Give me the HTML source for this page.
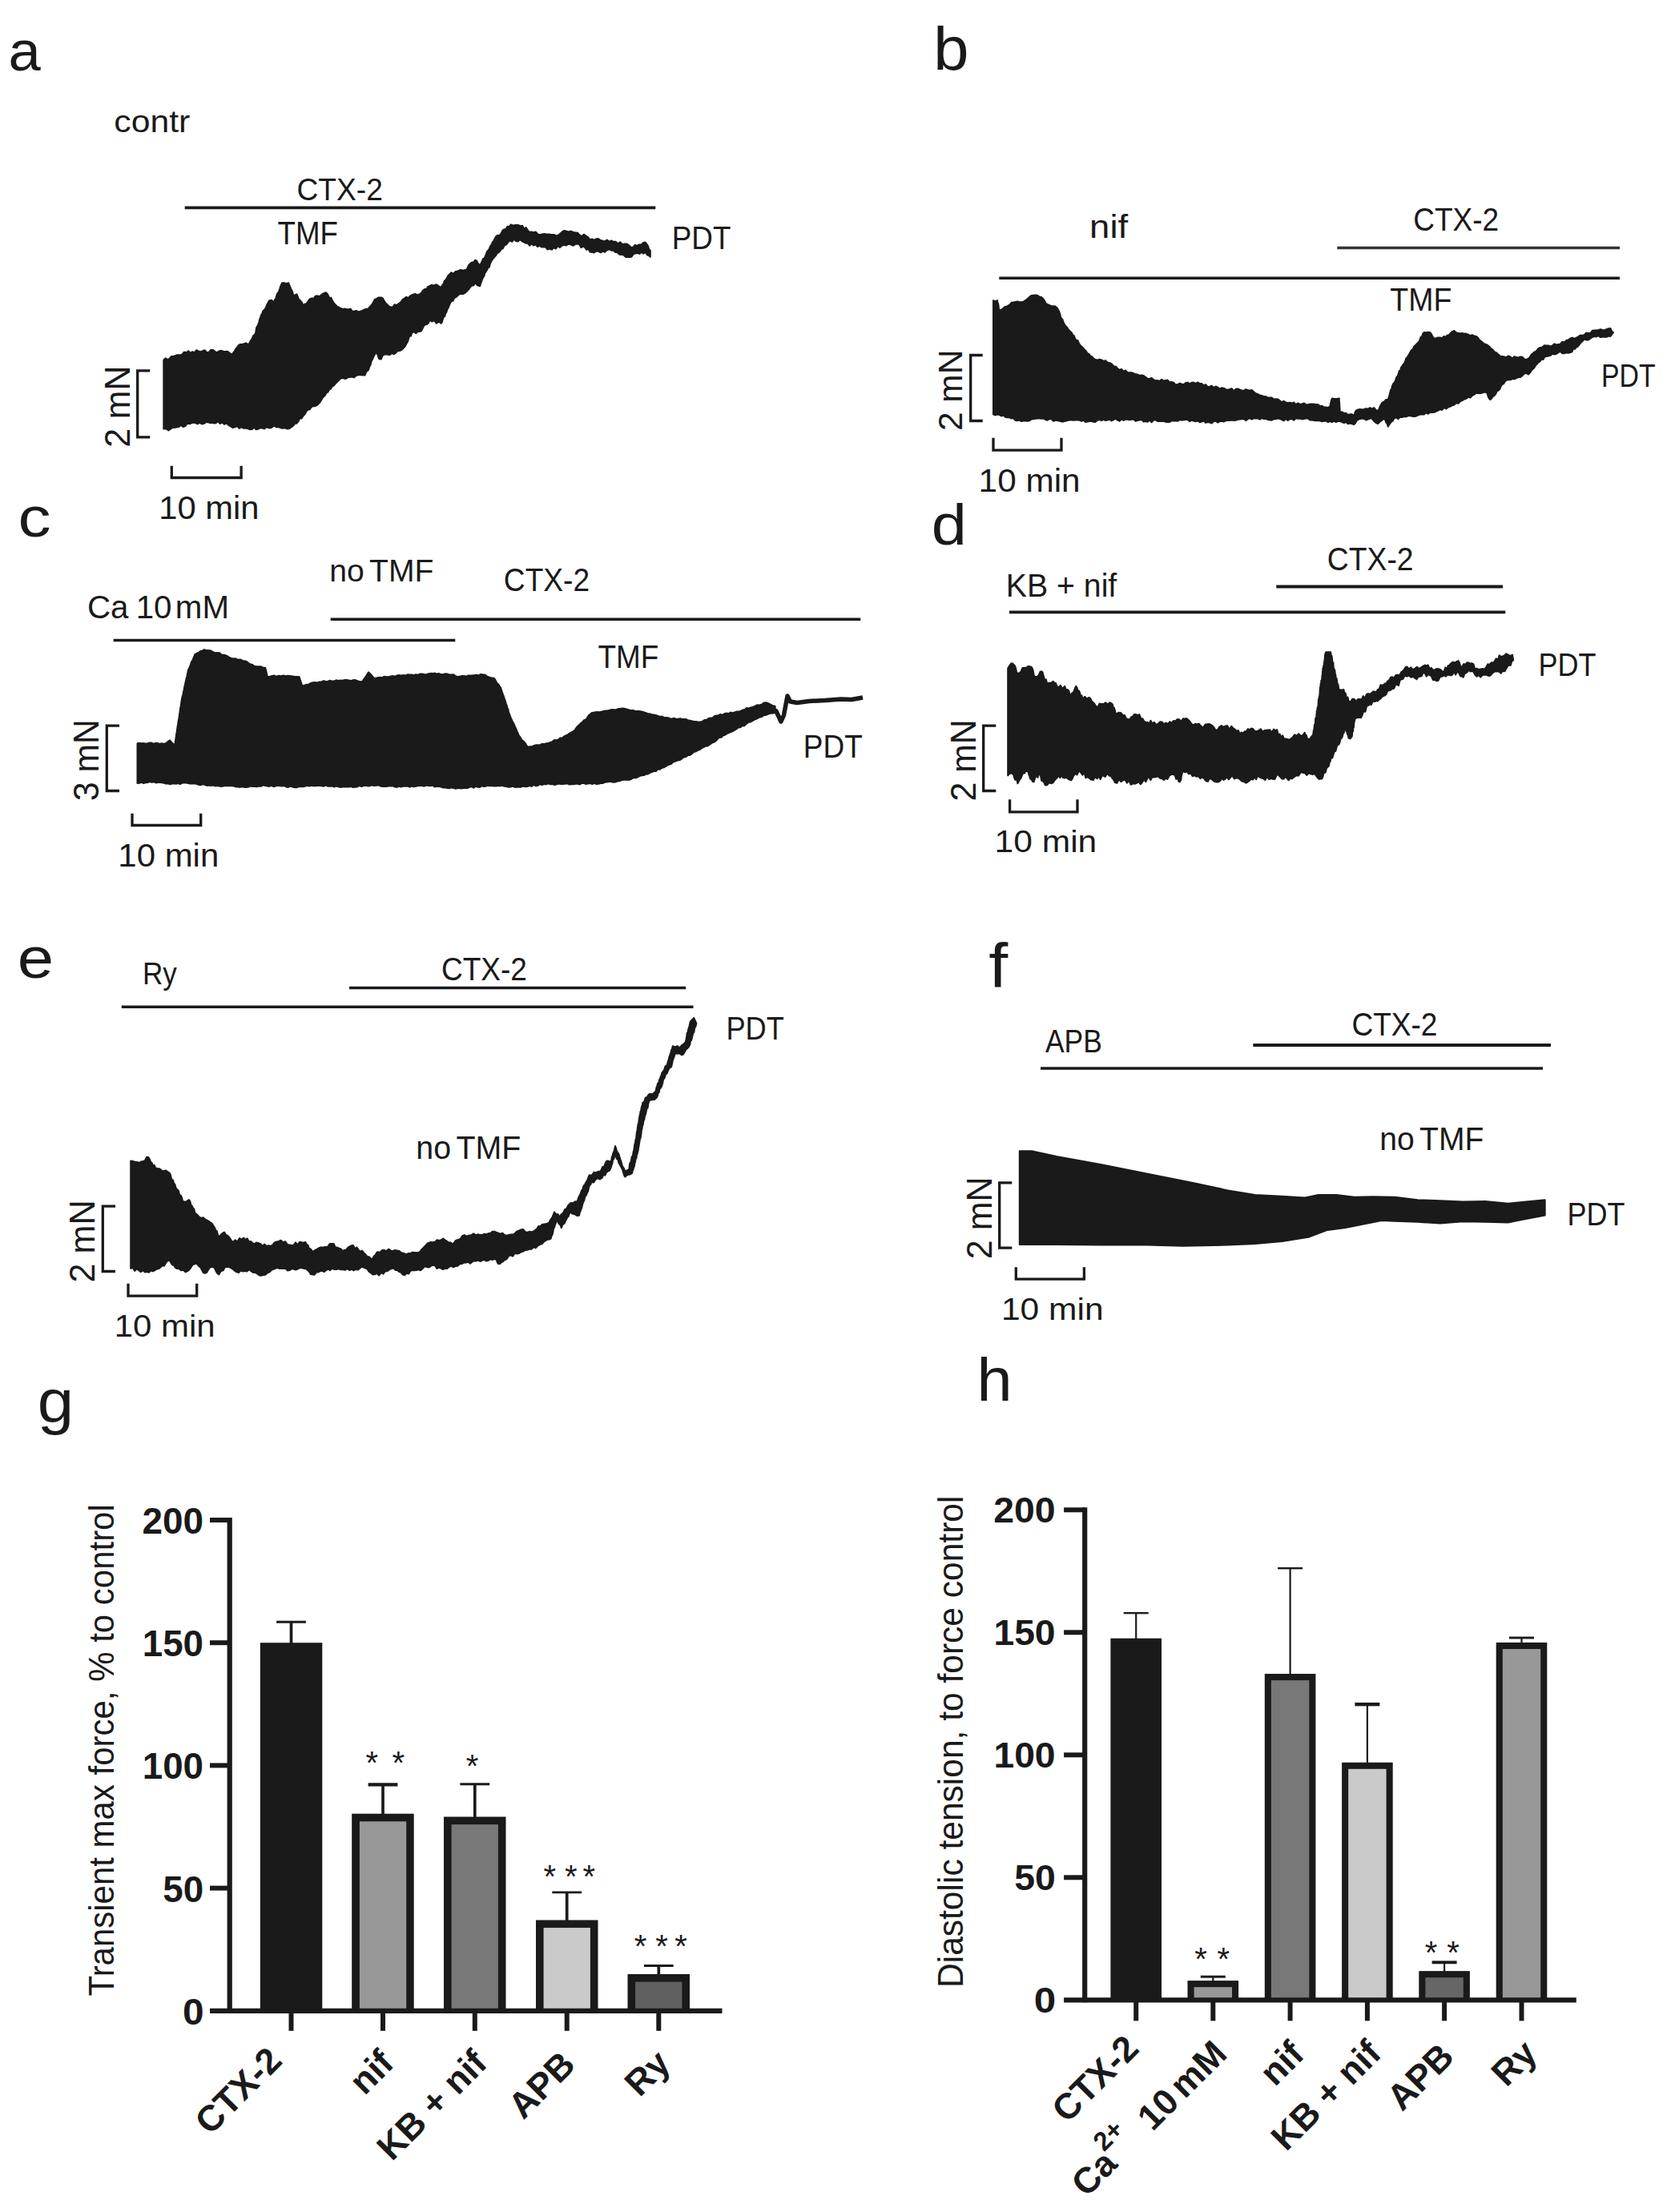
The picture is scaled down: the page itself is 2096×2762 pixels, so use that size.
<!DOCTYPE html>
<html><head><meta charset="utf-8"><title>Figure</title>
<style>
html,body{margin:0;padding:0;background:#fff;}
svg{display:block;}
text{font-family:'Liberation Sans', sans-serif;}
</style></head>
<body>
<svg width="2096" height="2762" viewBox="0 0 2096 2762">
<rect width="2096" height="2762" fill="#ffffff"/>
<g fill="#1a1a1a" stroke="#1a1a1a" stroke-width="2" stroke-linejoin="round">
<polygon points="204.3,449.5 206.7,447.3 209.0,449.0 211.4,447.9 213.8,445.1 216.1,445.1 218.5,444.3 221.3,443.3 224.1,443.2 227.0,442.9 229.8,439.6 232.7,440.2 235.2,438.3 237.7,440.9 240.2,439.2 242.8,440.2 245.3,437.2 247.8,438.5 250.4,439.3 252.9,438.2 255.5,437.3 258.1,440.0 260.6,439.9 263.2,436.8 265.8,436.9 268.4,438.8 270.9,440.3 273.5,438.4 276.1,437.8 278.7,438.7 281.3,439.0 284.0,438.7 286.7,440.7 289.4,443.1 291.0,440.7 292.7,438.7 294.4,435.6 296.1,433.5 297.8,431.2 299.5,430.1 302.0,430.0 304.5,429.3 307.1,428.4 309.6,430.1 311.2,428.9 312.8,425.4 314.5,423.3 316.1,419.3 317.7,418.0 318.5,417.3 319.3,414.4 320.1,409.3 320.9,407.6 321.8,406.6 322.6,404.1 323.4,402.5 324.2,398.2 325.0,397.3 325.8,393.7 327.1,392.0 328.3,388.4 329.6,387.1 330.9,385.9 332.1,383.5 333.4,380.0 334.7,378.0 335.9,375.4 339.0,374.8 342.0,377.5 343.0,374.1 344.0,373.7 345.0,369.9 346.1,366.6 347.1,365.5 348.1,363.6 349.1,361.1 350.1,357.6 351.1,355.4 352.1,353.2 354.8,353.2 357.5,354.2 360.2,353.2 361.2,355.9 362.3,358.2 363.3,361.2 364.3,362.3 365.3,365.0 366.3,369.4 370.4,367.3 371.7,370.4 373.1,373.8 374.4,374.7 375.8,376.4 377.1,378.0 378.5,381.5 380.5,379.5 382.5,379.2 384.5,376.4 386.6,373.4 389.1,372.5 391.6,372.7 394.1,369.4 396.7,369.4 399.2,370.0 401.7,367.6 404.3,366.2 406.8,365.3 408.4,366.5 410.0,369.5 411.7,373.0 413.3,371.6 414.9,375.4 416.9,378.5 419.0,380.6 421.0,382.9 423.0,383.5 425.4,385.0 427.9,385.9 430.3,385.4 432.7,386.2 435.2,386.3 437.6,385.6 440.0,389.1 442.4,388.6 444.9,387.9 447.3,389.6 449.7,388.8 452.2,387.9 454.6,386.7 457.0,385.8 459.5,385.6 461.1,383.7 462.8,381.9 464.5,379.9 466.2,377.3 467.9,373.7 469.6,373.4 472.6,371.4 475.7,371.4 477.7,372.2 479.7,375.7 481.7,378.8 483.8,380.6 485.8,382.6 487.8,383.5 490.2,383.5 492.7,380.2 495.1,381.1 497.5,379.3 500.0,377.5 502.4,374.3 504.8,372.5 507.2,370.8 509.7,371.9 512.1,369.4 515.1,367.9 518.2,366.9 521.2,368.3 524.3,367.3 526.3,365.1 528.3,362.4 530.3,361.0 532.4,360.7 534.4,357.7 536.4,357.2 539.1,355.7 541.8,356.6 544.5,355.2 547.5,357.0 550.6,359.2 552.0,356.3 553.5,354.5 554.9,350.6 556.4,349.6 557.8,347.4 559.3,344.2 560.7,343.0 563.4,340.3 566.1,341.8 568.8,339.0 571.8,338.5 574.9,336.9 577.9,337.8 581.0,337.0 583.0,336.1 585.0,331.2 587.0,329.1 589.1,327.6 591.1,327.6 593.1,324.8 595.1,325.6 597.2,329.6 599.2,330.9 600.4,329.2 601.7,326.5 603.0,323.0 604.2,323.5 605.5,320.6 606.8,317.3 608.0,313.9 609.3,312.7 610.7,310.8 612.0,307.5 613.4,305.8 614.7,302.6 616.1,301.3 617.4,298.5 619.4,294.9 621.5,293.7 623.5,294.1 625.5,291.7 627.5,287.7 629.6,286.3 631.6,286.1 633.6,282.6 635.6,283.4 637.7,280.3 640.7,281.6 643.7,281.0 646.8,280.9 649.8,282.3 652.1,281.7 654.4,286.0 656.7,284.1 659.1,288.1 661.4,289.7 663.7,289.5 666.0,290.4 668.7,289.5 671.4,292.4 674.1,293.1 676.8,292.5 679.5,292.1 682.2,292.4 685.2,292.5 688.3,292.9 691.3,292.9 694.4,294.4 696.8,293.8 699.2,291.8 701.6,289.7 704.1,288.1 706.5,288.4 709.5,289.5 712.6,288.6 715.6,289.9 718.7,290.4 721.2,290.8 723.7,293.7 726.2,294.9 728.8,292.7 731.3,294.4 733.8,295.8 736.4,299.2 738.9,298.5 741.6,299.7 744.3,298.3 747.0,298.1 749.7,300.0 752.4,300.8 755.1,301.4 757.8,299.5 760.5,301.7 763.2,300.5 765.9,301.8 768.6,301.8 771.3,304.3 774.0,302.2 776.7,304.7 779.4,304.6 782.1,304.4 784.8,306.1 787.5,308.6 790.1,309.2 792.7,305.8 795.3,306.9 797.9,305.5 800.5,305.5 803.1,302.9 805.7,302.5 807.2,304.5 808.8,306.8 810.3,311.4 811.8,312.7 811.8,320.8 809.8,319.1 807.8,318.3 805.7,314.7 803.3,316.7 800.8,314.7 798.3,316.9 795.8,316.0 793.4,316.4 790.9,317.2 788.4,320.7 785.9,321.1 783.5,320.8 780.9,320.9 778.4,318.2 775.9,318.1 773.3,317.7 770.8,315.2 768.3,314.9 765.7,312.7 763.2,312.7 760.5,311.4 757.8,312.3 755.1,314.7 752.4,313.8 749.7,315.3 747.0,313.8 744.3,313.4 741.6,315.5 738.9,314.7 736.7,314.7 734.4,310.7 732.2,311.9 729.9,308.7 727.7,307.7 725.4,309.3 723.2,305.1 720.9,304.7 718.7,304.6 715.6,306.8 712.6,305.3 709.5,304.7 706.5,306.6 704.0,305.9 701.4,306.7 698.9,309.0 696.4,307.2 693.8,310.6 691.3,309.2 688.8,311.8 686.3,310.6 683.7,311.6 681.2,308.9 678.7,308.2 676.1,308.5 673.6,306.7 671.1,308.1 668.5,305.4 666.0,306.6 663.6,304.0 661.1,306.7 658.7,303.4 656.3,303.7 653.9,302.3 651.4,301.0 649.0,299.3 646.6,301.6 644.1,301.0 641.7,298.5 639.3,301.8 636.8,300.3 634.4,302.3 632.0,305.4 629.6,306.6 627.8,310.3 626.1,310.8 624.3,313.3 622.6,315.3 620.9,315.8 619.1,318.9 617.4,320.8 616.1,322.3 614.7,324.3 613.4,326.0 612.0,329.0 610.7,333.7 609.3,334.1 608.0,337.0 606.6,339.3 605.3,341.0 604.2,345.3 603.2,346.0 602.2,348.4 601.2,351.2 600.2,353.8 599.2,357.2 596.1,356.4 593.1,353.2 591.1,356.6 589.1,356.5 587.0,358.6 585.0,361.4 583.0,363.6 581.0,365.3 578.5,366.9 576.1,366.8 573.7,367.2 571.2,369.2 568.8,371.4 567.2,371.9 565.6,375.6 563.9,375.9 562.3,377.9 560.7,381.5 559.6,384.5 558.5,385.7 557.3,390.0 556.2,391.4 555.1,395.2 554.0,395.1 552.8,398.8 551.7,402.4 550.6,403.8 547.7,401.4 544.9,403.8 542.1,400.2 539.2,401.5 536.4,399.7 534.7,403.5 532.9,404.9 531.2,405.2 529.5,406.4 527.7,409.9 526.0,413.4 524.3,413.9 521.7,413.7 519.2,416.3 516.7,414.1 514.1,415.9 512.9,419.7 511.6,418.8 510.3,422.1 509.1,426.5 507.8,428.4 506.5,431.1 505.3,433.1 504.0,434.2 501.6,436.7 499.1,438.1 496.7,437.9 494.3,440.4 491.9,442.3 489.3,441.0 486.8,443.0 484.3,442.9 481.7,442.3 479.7,442.9 477.7,443.7 475.7,448.5 473.6,448.3 472.6,446.9 471.6,443.4 470.6,440.9 469.6,438.2 468.6,441.9 467.6,442.9 466.5,445.1 465.5,447.3 464.5,449.5 463.5,451.1 462.5,455.7 461.5,457.3 460.5,460.3 459.5,462.5 457.4,464.0 455.4,468.6 452.7,468.4 450.0,467.9 447.3,468.2 444.6,469.1 441.9,471.4 439.2,470.6 436.5,470.9 433.8,471.6 431.1,473.0 428.4,472.3 425.7,472.2 423.0,474.7 421.0,476.8 419.0,478.7 416.9,481.3 414.9,482.5 412.9,485.4 410.9,486.8 409.3,489.7 407.8,489.9 406.3,492.9 404.8,494.8 403.3,495.9 401.7,498.6 400.2,501.2 398.7,503.0 396.0,505.8 393.3,507.2 390.6,507.1 388.6,508.3 386.6,511.6 384.5,511.5 382.5,513.6 380.5,517.2 378.5,519.2 376.4,522.6 374.4,522.0 372.4,526.2 370.4,528.7 368.3,528.6 366.3,531.4 363.6,533.4 360.9,535.3 358.2,535.4 355.5,534.3 352.8,534.8 350.1,534.2 347.4,533.0 344.7,533.3 342.0,531.4 339.6,533.6 337.1,534.6 334.7,534.0 332.3,533.4 329.9,535.4 327.3,534.5 324.8,534.4 322.3,535.7 319.7,536.3 317.2,533.8 314.7,536.1 312.1,536.2 309.6,535.4 306.9,534.5 304.2,534.8 301.5,533.2 298.8,534.9 296.1,532.1 293.4,533.4 290.7,534.1 288.0,532.5 285.3,530.8 282.6,528.5 279.9,529.8 277.2,527.3 274.7,529.0 272.1,526.0 269.6,528.3 267.1,528.5 264.5,527.9 262.0,528.0 259.5,527.1 257.0,527.3 254.4,529.1 251.9,529.5 249.4,527.6 246.8,529.4 244.3,528.3 241.8,527.6 239.2,528.4 236.7,529.3 234.0,528.7 231.3,532.1 228.6,533.0 225.9,530.7 223.2,533.1 220.5,533.4 218.0,534.1 215.4,534.0 212.9,535.7 210.4,537.4 207.3,535.5 204.3,535.4"/>
<polygon points="1240.0,375.0 1242.5,376.4 1245.0,375.0 1245.5,378.9 1246.0,378.7 1246.5,381.3 1247.0,386.0 1247.5,387.5 1249.7,387.0 1251.9,385.5 1254.1,383.2 1256.3,382.8 1258.5,381.6 1260.6,380.3 1262.8,377.7 1265.0,377.5 1267.5,376.9 1270.0,376.4 1272.5,376.9 1275.0,377.3 1277.5,376.8 1280.0,375.0 1282.5,373.2 1285.0,370.9 1287.5,369.0 1290.0,368.7 1292.5,368.4 1295.0,368.8 1297.5,370.5 1300.0,371.0 1301.9,372.7 1303.8,375.2 1305.7,378.9 1307.6,380.0 1310.1,381.1 1312.6,382.2 1315.1,382.2 1317.6,382.6 1320.1,385.0 1321.1,387.0 1322.2,388.9 1323.3,392.6 1324.3,396.5 1325.4,398.1 1326.5,399.1 1327.6,402.5 1329.2,405.8 1330.9,407.6 1332.6,409.5 1334.2,412.1 1335.9,413.7 1337.6,415.0 1339.1,418.1 1340.7,419.0 1342.3,423.1 1343.8,425.2 1345.4,425.0 1347.0,428.9 1348.5,431.0 1350.1,432.6 1352.0,434.3 1353.8,436.4 1355.7,438.2 1357.6,441.3 1359.5,441.9 1361.3,444.8 1363.2,445.2 1365.1,447.6 1367.6,449.1 1370.1,449.6 1372.6,448.7 1375.1,449.4 1377.6,450.9 1380.1,450.1 1382.2,452.2 1384.4,452.9 1386.5,453.5 1388.7,455.3 1390.8,457.8 1393.0,457.6 1395.1,460.1 1397.6,462.0 1400.1,460.9 1402.6,463.6 1405.1,462.5 1407.6,465.2 1410.1,465.2 1412.6,465.3 1415.1,466.1 1417.6,467.3 1420.1,467.6 1422.6,468.7 1425.1,468.6 1427.6,469.1 1430.1,470.9 1432.6,472.9 1435.1,472.8 1437.6,472.0 1440.1,474.1 1442.6,475.2 1445.1,475.1 1447.6,475.8 1450.1,473.8 1452.6,475.6 1455.1,475.1 1457.6,474.6 1460.1,477.2 1462.6,476.9 1465.1,477.6 1467.6,480.4 1470.1,480.1 1472.7,478.6 1475.2,479.5 1477.7,480.2 1480.2,478.1 1482.7,477.7 1485.2,479.3 1487.7,477.7 1490.2,477.6 1492.7,478.9 1495.2,477.4 1497.7,479.0 1500.2,479.1 1502.7,481.2 1505.2,480.1 1507.7,483.3 1510.2,482.6 1512.7,481.6 1515.2,484.1 1517.7,482.5 1520.2,483.6 1522.7,485.7 1525.2,484.2 1527.7,484.7 1530.2,486.1 1532.7,486.8 1535.2,486.0 1537.7,485.1 1540.2,488.1 1542.7,485.7 1545.2,485.4 1547.7,486.5 1550.2,487.4 1552.7,487.9 1555.2,486.2 1557.7,487.0 1560.2,487.6 1562.7,487.1 1565.2,489.3 1567.7,491.2 1570.2,492.1 1572.7,493.5 1575.2,494.0 1577.7,495.2 1580.2,495.1 1582.7,496.5 1585.2,496.5 1587.7,496.5 1590.2,498.6 1592.7,498.3 1595.2,498.4 1597.7,500.2 1600.2,502.2 1602.7,500.7 1605.2,502.6 1607.7,503.1 1610.2,502.8 1612.7,503.4 1615.2,502.5 1617.7,505.2 1620.2,503.4 1622.7,504.7 1625.2,504.4 1627.7,503.4 1630.2,505.1 1632.7,505.5 1635.2,504.4 1637.7,504.4 1640.3,504.5 1642.8,505.1 1645.3,505.1 1647.8,507.0 1650.3,506.8 1652.8,508.4 1655.3,508.5 1657.8,508.9 1660.3,507.6 1660.9,504.3 1661.5,502.4 1662.1,499.3 1662.8,497.6 1665.8,497.9 1668.8,498.0 1671.8,497.6 1671.9,501.0 1672.1,503.2 1672.2,504.4 1672.3,507.4 1672.5,510.2 1672.6,511.1 1672.8,515.1 1675.3,514.3 1677.8,516.0 1680.3,515.7 1682.8,518.1 1685.3,517.2 1687.8,517.3 1690.3,519.1 1691.5,514.9 1692.8,512.6 1695.3,511.4 1697.8,511.0 1700.3,511.5 1702.8,510.9 1705.3,510.1 1707.8,510.7 1710.3,509.0 1712.8,510.7 1715.3,509.1 1717.8,512.2 1720.3,512.6 1721.5,510.8 1722.8,507.4 1724.1,505.1 1725.3,502.6 1727.8,501.7 1730.3,498.9 1732.8,499.1 1733.6,496.1 1734.5,493.7 1735.3,489.9 1736.1,486.9 1737.0,486.2 1737.8,482.6 1738.9,479.9 1740.1,478.1 1741.2,477.0 1742.4,473.8 1743.5,470.6 1744.6,470.4 1745.8,466.3 1746.9,462.9 1748.0,462.7 1749.2,458.6 1750.3,457.6 1751.6,454.8 1752.8,454.2 1754.1,451.5 1755.3,447.4 1756.6,446.5 1757.8,444.2 1759.1,442.2 1760.3,440.1 1762.0,437.1 1763.7,436.2 1765.3,432.5 1767.0,431.1 1768.7,429.3 1770.3,427.6 1771.8,426.4 1773.3,421.3 1774.8,420.8 1776.3,416.6 1777.8,415.0 1780.3,415.3 1782.8,414.7 1785.3,415.0 1787.0,417.4 1788.7,420.8 1790.3,422.5 1792.8,422.2 1795.3,421.4 1797.8,421.4 1800.3,422.5 1802.4,419.9 1804.5,420.8 1806.6,418.7 1808.7,418.3 1810.8,416.0 1812.9,414.0 1815.4,413.0 1817.9,415.3 1820.4,416.1 1822.9,416.3 1825.4,416.0 1827.9,416.6 1830.4,416.8 1832.9,417.6 1835.4,419.2 1837.9,418.2 1840.4,419.6 1842.9,420.0 1845.0,421.6 1847.0,424.7 1849.1,426.0 1851.2,428.0 1853.3,429.4 1855.4,430.1 1857.4,431.2 1859.4,432.9 1861.4,435.4 1863.4,436.5 1865.4,439.1 1867.9,440.3 1870.4,442.6 1872.9,444.8 1875.4,445.1 1877.9,445.5 1880.4,446.4 1882.9,444.4 1885.4,445.4 1887.9,447.5 1890.4,445.1 1892.9,446.1 1895.4,446.6 1897.9,445.5 1900.4,445.7 1902.9,448.4 1905.4,448.8 1907.9,447.6 1909.7,446.2 1911.5,442.9 1913.3,441.6 1915.1,439.6 1916.8,439.1 1918.6,437.4 1920.4,435.1 1922.9,434.0 1925.4,433.4 1927.9,431.3 1930.4,431.6 1932.9,431.4 1935.4,432.4 1937.9,431.6 1940.4,429.3 1942.9,430.4 1945.4,430.1 1947.9,429.4 1950.4,426.8 1952.9,427.5 1955.4,424.9 1957.9,424.4 1960.4,422.5 1962.9,421.7 1965.4,422.9 1967.9,421.6 1970.4,420.4 1972.9,418.6 1975.4,419.0 1978.0,417.8 1980.5,415.5 1983.0,416.1 1985.5,415.9 1988.0,412.7 1990.5,412.5 1993.0,412.3 1995.5,411.9 1998.0,411.3 2000.5,411.9 2003.0,412.3 2005.5,411.3 2008.0,410.3 2010.5,410.0 2012.2,413.9 2014.0,415.0 2010.5,420.0 2008.0,419.5 2005.5,420.8 2003.0,420.5 2000.5,420.8 1998.0,421.1 1995.5,419.2 1993.0,420.4 1990.5,420.0 1988.0,420.8 1985.5,422.5 1983.0,424.5 1980.5,424.5 1978.0,423.6 1975.4,426.1 1973.6,427.7 1971.7,430.2 1969.8,432.5 1967.9,433.5 1966.1,435.8 1964.2,435.1 1962.3,439.6 1960.4,440.1 1957.9,440.7 1955.4,440.4 1952.9,441.3 1950.4,441.2 1947.9,438.9 1945.4,440.1 1942.9,441.8 1940.4,442.5 1937.9,441.7 1935.4,444.1 1932.9,444.5 1930.4,445.1 1928.4,445.6 1926.4,449.0 1924.4,448.5 1922.4,451.4 1920.4,452.6 1918.7,454.5 1917.1,456.0 1915.4,459.0 1913.7,460.8 1912.1,462.1 1910.4,465.1 1907.9,467.5 1905.4,465.8 1902.9,466.6 1900.4,469.0 1897.9,471.1 1895.4,471.1 1892.9,472.2 1890.4,473.2 1887.9,473.0 1885.4,474.3 1882.9,473.9 1880.4,475.1 1878.7,476.5 1877.1,479.3 1875.4,479.9 1873.7,482.2 1872.1,486.3 1870.4,487.6 1868.7,488.5 1867.1,492.2 1865.4,494.2 1863.7,495.0 1862.0,497.7 1860.4,499.1 1859.1,497.7 1857.9,495.7 1856.6,491.2 1855.4,490.1 1852.9,489.5 1850.4,490.6 1847.9,491.2 1845.4,491.1 1842.9,490.7 1840.4,492.6 1837.9,494.0 1835.4,496.5 1832.9,495.9 1830.4,497.7 1827.9,498.5 1825.4,500.1 1822.9,501.2 1820.4,503.7 1817.9,503.3 1815.4,505.5 1812.9,506.3 1810.4,507.6 1807.8,508.5 1805.3,510.5 1802.8,508.8 1800.3,511.9 1797.8,511.2 1795.3,512.6 1792.8,513.7 1790.3,514.7 1787.8,514.9 1785.3,514.8 1782.8,516.8 1780.3,515.1 1777.8,517.4 1775.3,517.6 1772.8,517.6 1770.3,518.4 1767.8,519.7 1765.3,519.9 1762.8,519.7 1760.3,519.1 1757.8,519.3 1755.3,520.3 1752.8,520.0 1750.3,521.1 1747.8,520.8 1745.3,523.2 1742.8,521.1 1740.3,522.6 1738.8,525.6 1737.3,526.2 1735.8,528.2 1734.3,530.1 1732.8,532.6 1731.6,528.8 1730.3,527.5 1729.1,524.1 1727.8,522.6 1725.3,524.6 1722.8,526.3 1720.3,529.1 1717.8,528.1 1715.3,526.0 1712.8,522.6 1710.3,522.6 1707.8,523.5 1705.3,524.5 1702.8,522.9 1700.3,522.5 1697.8,523.1 1695.3,524.1 1693.6,525.2 1691.9,528.6 1690.3,530.1 1687.8,529.2 1685.3,528.5 1682.8,529.3 1680.3,527.0 1677.8,528.2 1675.3,527.1 1672.8,526.1 1670.3,525.8 1667.8,527.1 1665.3,525.6 1662.8,527.2 1660.3,526.1 1657.8,527.1 1655.3,525.5 1652.8,525.8 1650.3,526.3 1647.8,525.4 1645.3,525.1 1642.8,525.2 1640.3,525.1 1637.7,524.2 1635.2,524.6 1632.7,522.3 1630.2,522.6 1627.7,523.1 1625.2,523.4 1622.7,522.6 1620.2,522.8 1617.7,522.3 1615.2,524.7 1612.7,523.0 1610.2,523.5 1607.7,524.9 1605.2,522.9 1602.7,525.4 1600.2,524.1 1597.7,522.9 1595.2,522.4 1592.7,523.3 1590.2,523.2 1587.7,524.7 1585.2,524.5 1582.7,524.0 1580.2,522.9 1577.7,523.1 1575.2,522.1 1572.7,523.7 1570.2,522.6 1567.7,522.5 1565.2,522.4 1562.7,523.6 1560.2,522.4 1557.7,523.1 1555.2,525.1 1552.7,522.9 1550.2,523.2 1547.7,523.6 1545.2,523.9 1542.7,524.7 1540.2,525.1 1537.7,524.6 1535.2,525.1 1532.7,525.0 1530.2,525.2 1527.7,526.5 1525.2,525.9 1522.7,526.2 1520.2,527.6 1517.7,525.7 1515.2,526.1 1512.7,528.5 1510.2,527.6 1507.7,527.1 1505.2,527.9 1502.7,525.6 1500.2,526.5 1497.7,527.2 1495.2,525.4 1492.7,526.4 1490.2,525.6 1487.7,524.7 1485.2,526.2 1482.7,524.1 1480.2,524.1 1477.7,524.2 1475.2,524.8 1472.7,524.1 1470.1,525.8 1467.6,525.2 1465.1,525.4 1462.6,525.4 1460.1,526.9 1457.6,527.1 1455.1,526.8 1452.6,525.8 1450.1,526.1 1447.6,525.8 1445.1,526.0 1442.6,524.5 1440.1,524.6 1437.6,527.2 1435.1,524.5 1432.6,526.8 1430.1,526.0 1427.6,526.6 1425.1,524.0 1422.6,524.6 1420.1,525.1 1417.6,525.9 1415.1,523.5 1412.6,523.7 1410.1,524.3 1407.6,523.7 1405.1,523.6 1402.6,525.0 1400.1,523.2 1397.6,525.8 1395.1,524.7 1392.6,522.8 1390.1,524.1 1387.6,525.5 1385.1,523.7 1382.6,524.6 1380.1,525.0 1377.6,523.9 1375.1,525.1 1372.6,524.0 1370.1,524.5 1367.6,526.9 1365.1,526.7 1362.6,526.0 1360.1,526.1 1357.6,526.6 1355.1,527.1 1352.6,524.8 1350.1,525.8 1347.6,524.7 1345.1,524.6 1342.6,524.5 1340.1,524.7 1337.6,524.2 1335.1,524.6 1332.6,525.1 1330.1,525.7 1327.6,526.4 1325.1,526.4 1322.6,525.8 1320.1,525.1 1317.6,524.9 1315.1,525.9 1312.6,523.3 1310.1,522.9 1307.6,524.8 1305.1,524.0 1302.5,522.5 1300.0,522.7 1297.5,522.3 1295.0,522.6 1292.5,522.8 1290.0,523.3 1287.5,523.6 1285.0,525.3 1282.5,525.7 1280.0,525.4 1277.5,525.6 1275.0,526.1 1272.5,524.6 1270.0,525.2 1267.5,525.1 1265.0,522.0 1262.5,522.6 1260.0,521.1 1257.5,521.3 1255.0,520.7 1252.5,518.4 1250.0,519.5 1247.5,518.0 1245.0,517.6 1242.5,518.3 1240.0,517.6"/>
<polygon points="171.5,928.2 174.0,927.8 176.5,928.3 179.0,928.0 181.5,928.4 184.0,928.4 186.5,927.5 189.0,927.5 191.5,928.8 194.1,927.9 196.6,927.8 199.1,929.0 201.6,928.2 204.1,928.8 206.6,928.2 209.4,926.2 212.2,924.3 214.1,927.0 216.0,928.6 217.9,931.6 218.3,929.3 218.7,927.2 219.1,924.1 219.4,921.9 219.8,919.3 220.2,915.8 220.6,914.4 221.0,911.6 221.4,908.6 221.8,905.7 222.1,904.5 222.5,901.3 222.9,899.2 223.3,897.0 223.7,894.2 224.1,892.0 224.5,888.6 224.8,886.8 225.2,883.7 225.6,881.9 226.0,879.3 226.4,876.2 226.9,873.1 227.4,870.7 228.0,868.3 228.5,867.0 229.0,863.7 229.6,861.5 230.1,858.5 230.6,856.4 231.2,853.7 231.7,851.2 232.2,849.1 232.8,846.6 233.3,844.7 233.8,841.8 234.3,839.7 234.9,836.6 235.9,834.7 237.0,832.4 238.1,829.4 239.1,826.1 240.2,824.8 241.2,822.5 242.3,819.9 243.4,816.8 245.6,815.8 247.9,814.9 250.1,812.9 252.4,812.8 254.7,811.1 257.5,811.9 260.3,812.1 263.2,812.4 266.0,814.3 268.8,815.2 271.6,815.1 274.1,815.3 276.6,817.4 279.1,817.7 281.6,818.2 284.0,819.3 286.5,821.0 289.0,822.1 291.5,822.4 294.3,822.3 297.1,823.8 299.9,823.4 302.8,825.0 305.6,825.3 308.0,826.1 310.3,828.1 312.7,829.4 315.0,829.8 317.4,831.7 319.7,832.1 322.6,832.2 325.4,832.2 328.2,833.5 331.1,833.8 331.8,835.8 332.5,838.9 333.2,842.1 333.9,845.1 336.7,845.0 339.5,844.0 342.4,843.6 345.2,844.7 348.0,843.6 350.9,844.3 353.7,843.4 356.5,844.2 359.4,843.7 362.2,844.0 365.0,844.4 367.8,844.8 370.7,845.0 373.5,845.1 374.5,848.0 375.5,850.9 376.5,854.3 377.5,856.4 380.1,855.6 382.7,854.8 385.4,854.5 388.0,852.9 390.7,852.3 393.3,851.9 395.9,852.4 398.6,851.5 401.2,851.4 403.9,850.3 406.5,850.8 409.1,850.9 411.8,849.8 414.4,850.5 417.1,850.4 419.7,849.3 422.3,850.0 425.0,849.5 427.6,849.7 430.3,849.0 432.9,849.0 435.7,849.6 438.6,849.9 441.4,849.0 444.2,849.3 447.1,850.5 449.9,851.2 452.7,850.7 454.2,848.1 455.7,846.1 457.1,844.1 458.6,841.4 460.1,839.4 461.8,841.0 463.5,842.8 465.2,844.7 466.9,846.8 469.5,846.7 472.1,845.9 474.7,845.8 477.3,846.2 479.9,844.7 482.5,845.3 485.1,845.3 487.7,844.4 490.4,844.0 493.0,844.6 495.6,843.5 498.2,843.1 500.8,843.4 503.4,843.1 506.1,843.4 508.7,842.3 511.4,842.5 514.0,842.4 516.6,843.0 519.3,842.2 521.9,842.7 524.6,841.5 527.2,841.6 529.8,842.0 532.5,842.2 535.1,841.3 537.8,840.8 540.4,841.1 543.0,840.6 545.5,841.4 548.0,841.0 550.6,842.1 553.1,842.2 555.7,841.3 558.2,841.5 560.8,842.5 563.3,842.4 565.9,842.2 568.7,844.1 571.5,845.1 574.1,844.6 576.7,844.0 579.3,844.0 581.9,844.6 584.5,843.5 587.1,843.4 589.7,843.3 592.3,843.1 594.9,842.8 597.5,843.4 600.1,841.9 602.7,842.2 605.5,842.4 608.3,844.8 611.1,845.6 614.0,846.6 616.8,846.8 618.2,848.7 619.6,851.6 621.0,853.7 622.5,854.6 623.9,857.5 625.3,859.2 626.1,862.2 626.9,864.3 627.7,866.5 628.5,868.6 629.3,871.1 630.1,873.3 630.9,875.5 631.7,878.8 632.6,880.7 633.4,884.0 634.2,885.2 635.0,889.0 635.8,891.0 636.6,893.2 637.6,896.2 638.7,898.4 639.7,900.7 640.7,902.5 641.7,904.0 642.8,907.4 643.8,908.8 644.8,911.4 645.9,914.3 646.9,916.3 647.9,918.6 649.5,920.5 651.1,923.4 652.8,924.9 654.4,926.5 656.0,928.3 657.6,931.3 659.2,932.8 661.7,932.2 664.3,932.2 666.8,931.0 669.3,930.3 671.8,930.3 674.3,930.3 676.8,928.7 679.3,929.2 681.9,928.2 684.3,928.1 686.8,927.0 689.3,926.2 691.8,924.1 694.2,924.2 696.7,923.7 699.2,921.6 701.7,921.5 704.0,919.7 706.4,918.3 708.7,917.3 711.1,915.7 713.5,914.3 715.8,913.0 717.7,911.5 719.6,908.4 721.5,906.6 723.4,904.8 725.2,902.9 727.1,901.6 729.0,899.1 730.9,898.6 732.8,896.6 734.7,893.4 736.6,892.2 738.4,890.3 740.9,889.7 743.4,889.3 745.9,889.0 748.3,889.2 750.8,888.7 753.3,888.0 755.8,887.4 758.2,887.5 761.1,886.8 763.9,886.0 766.7,886.2 769.6,886.0 772.4,885.0 775.2,884.7 777.8,884.4 780.3,885.0 782.9,885.7 785.4,886.4 788.0,887.1 790.5,886.9 793.0,887.9 795.6,888.0 798.1,888.1 800.7,888.6 803.3,889.1 805.8,890.0 808.4,891.0 811.0,891.2 813.5,892.3 816.1,892.6 818.7,892.9 821.3,894.0 823.8,895.0 826.4,894.6 829.0,896.0 831.5,896.1 834.0,896.3 836.5,897.2 839.0,897.4 841.5,896.7 844.1,897.8 846.6,897.8 849.1,897.1 851.6,897.7 854.1,898.1 856.6,898.0 859.2,899.5 861.7,899.7 864.2,900.5 866.7,900.8 869.2,901.0 871.7,901.6 874.2,901.6 876.8,900.8 879.3,899.1 881.8,899.0 884.3,897.1 886.8,896.4 889.3,896.4 891.8,894.3 894.4,893.5 896.9,893.2 899.4,892.0 901.9,892.8 904.4,891.1 906.9,890.4 909.4,891.2 912.0,889.5 914.5,890.2 917.0,889.4 919.5,888.6 922.0,888.4 924.5,887.9 927.0,886.5 929.6,886.1 932.1,884.1 934.6,884.5 937.1,883.4 939.6,882.9 942.1,881.8 945.0,880.3 947.8,880.4 950.6,879.8 953.5,877.5 956.3,877.3 959.1,878.2 961.9,879.7 964.8,881.2 967.6,881.8 967.6,890.3 964.8,890.4 961.9,890.8 959.1,891.5 956.3,892.8 953.5,893.2 951.0,894.9 948.6,895.4 946.2,896.5 943.8,897.8 941.3,898.9 938.9,900.3 936.5,901.6 934.1,902.0 931.6,904.1 929.2,906.2 926.8,906.3 924.4,908.2 921.9,908.2 919.5,910.1 917.1,911.7 914.7,913.1 912.2,914.1 909.8,915.0 907.4,916.2 905.0,917.7 902.5,918.6 900.4,920.8 898.3,920.8 896.2,922.1 894.0,924.8 891.9,926.5 889.8,927.1 887.7,928.4 885.6,929.9 883.1,931.6 880.7,931.7 878.3,933.1 875.9,934.2 873.4,936.2 871.0,936.8 868.6,938.4 866.2,939.1 863.7,941.2 861.3,943.0 858.9,942.9 856.5,944.9 854.0,945.5 851.6,946.9 849.3,948.8 847.1,949.3 844.8,949.8 842.6,950.9 840.3,951.6 838.0,953.7 835.8,954.6 833.5,955.3 831.2,956.8 829.0,958.2 826.5,958.8 823.9,960.7 821.4,960.3 818.9,963.0 816.4,962.9 813.9,964.1 811.4,964.8 808.9,966.4 806.3,966.7 803.8,968.1 801.3,968.3 798.8,968.9 796.3,970.2 793.8,971.2 791.3,971.0 788.7,972.5 786.2,973.7 783.7,973.5 781.1,973.8 778.5,973.7 775.9,974.0 773.3,975.3 770.7,975.6 768.0,976.5 765.4,976.7 762.8,975.8 760.2,976.0 757.6,976.5 755.0,976.7 752.4,978.1 749.8,978.0 747.2,978.8 744.5,979.0 741.9,977.8 739.3,979.1 736.7,978.1 734.1,978.4 731.5,979.1 728.9,977.9 726.3,978.0 723.6,979.6 721.0,978.6 718.4,978.8 715.8,979.2 713.2,979.3 710.6,979.5 708.0,978.2 705.4,978.8 702.8,979.0 700.1,979.1 697.5,978.6 694.9,979.3 692.3,980.1 689.7,978.9 687.1,979.3 684.5,978.4 681.9,979.2 679.3,979.0 676.6,980.0 674.0,979.2 671.4,981.0 668.8,981.3 666.2,979.9 663.6,981.9 661.0,981.0 658.4,982.1 655.7,982.3 653.1,981.6 650.5,982.7 647.9,982.6 645.3,982.7 642.7,982.9 640.1,981.7 637.5,982.5 634.9,982.8 632.2,982.1 629.6,981.7 627.0,980.7 624.4,981.4 621.8,981.0 619.2,981.6 616.6,981.4 614.0,980.9 611.5,981.2 608.9,980.7 606.4,981.8 603.9,982.0 601.4,981.3 598.9,983.0 596.4,982.7 593.8,981.9 591.3,983.7 588.8,982.3 586.3,982.9 583.8,983.9 581.3,983.9 578.8,984.1 576.2,984.5 573.7,984.3 571.2,984.2 568.7,984.8 566.1,983.9 563.5,983.4 560.9,984.3 558.3,984.1 555.6,983.4 553.0,983.5 550.4,982.4 547.8,981.9 545.2,981.8 542.6,982.5 540.0,980.6 537.4,981.2 534.8,980.9 532.1,980.5 529.5,981.7 526.9,981.0 524.3,981.1 521.7,981.3 519.1,981.7 516.5,982.3 513.9,981.6 511.2,982.7 508.6,981.4 506.0,981.8 503.4,981.6 500.8,982.6 498.2,981.7 495.6,982.9 493.0,982.6 490.4,981.4 487.7,981.3 485.1,981.6 482.5,982.1 479.9,982.1 477.3,981.9 474.7,981.4 472.1,980.4 469.5,980.8 466.9,980.9 464.2,980.4 461.6,981.2 459.0,981.4 456.4,980.8 453.8,981.0 451.2,982.2 448.6,980.8 446.0,982.5 443.4,982.8 440.7,983.1 438.1,982.1 435.5,982.5 432.9,982.6 430.3,982.6 427.7,982.6 425.1,983.1 422.5,982.4 419.8,981.5 417.2,982.5 414.6,981.6 412.0,981.7 409.4,981.8 406.8,980.3 404.2,981.7 401.6,981.3 399.0,980.9 396.3,981.0 393.7,981.2 391.1,981.2 388.5,980.8 385.9,981.6 383.3,980.7 380.7,981.8 378.1,982.2 375.5,981.9 372.8,982.3 370.2,983.2 367.6,983.2 365.0,982.6 362.4,981.7 359.8,982.9 357.2,982.4 354.6,981.1 352.0,981.6 349.3,981.2 346.7,980.8 344.1,981.6 341.5,982.2 338.9,980.9 336.3,981.9 333.7,981.4 331.1,980.9 328.4,980.3 325.8,981.8 323.2,981.5 320.6,982.2 318.0,981.9 315.4,982.1 312.8,981.5 310.2,982.5 307.6,982.9 304.9,982.9 302.3,982.2 299.7,982.9 297.1,982.6 294.5,982.4 291.9,981.5 289.3,981.3 286.7,981.2 284.1,981.3 281.4,981.1 278.8,981.6 276.2,981.9 273.6,981.5 271.0,981.1 268.4,981.4 265.8,980.6 263.2,980.9 260.6,980.5 258.0,980.9 255.4,979.9 252.9,979.2 250.3,980.4 247.7,979.8 245.2,978.8 242.6,978.5 240.0,978.6 237.4,978.5 234.9,978.0 232.4,977.6 229.8,977.3 227.3,977.8 224.8,979.1 222.3,978.0 219.8,978.7 217.3,978.3 214.8,978.5 212.2,979.2 209.7,978.3 207.2,978.5 204.7,977.7 202.2,977.2 199.7,977.1 197.2,977.0 194.6,977.4 192.1,976.3 189.6,976.9 187.0,976.1 184.4,977.1 181.8,977.2 179.3,978.0 176.7,976.8 174.1,977.7 171.5,978.0"/>
<polygon points="1258.2,834.6 1260.3,831.0 1262.3,828.3 1264.3,828.5 1265.3,829.9 1266.3,830.6 1267.3,832.1 1268.4,836.0 1269.4,840.9 1270.4,840.6 1272.4,840.6 1274.4,838.7 1276.5,833.9 1278.5,833.7 1281.2,833.5 1283.9,831.7 1286.6,832.5 1287.6,832.7 1288.6,834.4 1289.6,837.0 1290.6,843.0 1291.6,844.5 1292.7,844.7 1294.7,844.9 1296.7,843.3 1298.7,838.4 1300.8,838.6 1301.6,839.6 1302.5,843.4 1303.4,846.0 1304.2,848.7 1305.1,850.9 1306.0,848.4 1306.8,852.8 1309.5,852.7 1312.2,852.4 1314.9,850.8 1316.4,852.8 1318.0,853.0 1319.5,856.7 1321.0,858.9 1323.7,855.9 1326.4,859.9 1329.1,856.8 1330.7,860.9 1332.3,861.1 1334.0,861.8 1335.6,867.2 1337.2,867.0 1338.4,865.3 1339.6,865.0 1340.8,862.8 1342.1,858.9 1343.3,856.8 1344.3,858.4 1345.3,861.4 1346.3,862.5 1347.3,863.0 1348.3,865.9 1349.4,870.7 1350.4,868.4 1351.4,873.0 1354.1,869.8 1356.8,872.4 1359.5,871.0 1361.1,871.8 1362.7,875.2 1364.3,876.9 1366.0,878.2 1367.6,881.1 1370.1,883.4 1372.6,878.4 1375.2,879.1 1377.7,879.1 1380.2,877.2 1382.8,879.4 1385.3,877.2 1387.8,878.3 1388.8,879.6 1389.9,884.0 1390.9,883.8 1391.9,887.3 1392.9,891.4 1393.9,891.3 1396.6,889.7 1399.3,890.1 1402.0,893.3 1404.0,893.1 1406.1,897.4 1408.1,897.9 1410.1,898.5 1412.1,895.5 1414.2,894.4 1416.2,891.9 1418.2,892.1 1420.2,893.1 1422.3,892.1 1424.3,897.1 1426.3,897.3 1428.3,900.6 1430.4,901.9 1432.4,901.7 1434.4,904.0 1436.4,899.7 1438.5,903.4 1440.9,901.8 1443.3,905.2 1445.7,903.7 1448.2,901.3 1450.6,901.4 1453.0,904.1 1455.5,902.5 1457.9,903.9 1460.3,901.2 1462.8,902.6 1465.1,900.0 1467.5,900.5 1469.8,897.9 1472.2,898.4 1474.6,900.8 1476.9,897.3 1479.0,897.6 1481.0,897.0 1483.0,898.4 1485.0,900.3 1487.1,903.4 1489.5,905.6 1491.9,903.9 1494.3,904.2 1496.8,903.7 1499.2,906.6 1501.9,908.5 1504.6,904.6 1507.3,904.2 1509.3,904.0 1511.4,904.7 1513.4,906.1 1515.4,908.2 1517.4,911.5 1519.9,911.5 1522.3,907.6 1524.7,906.0 1527.1,907.6 1529.6,906.6 1532.1,905.9 1534.6,910.8 1537.2,906.7 1539.7,909.5 1541.7,910.7 1543.8,913.0 1545.8,912.0 1547.8,916.3 1549.8,914.4 1551.9,915.6 1553.9,913.2 1555.9,913.2 1557.9,910.1 1560.0,911.3 1562.0,909.4 1564.0,909.9 1566.4,912.8 1568.9,913.2 1571.3,912.1 1573.7,910.2 1576.2,913.5 1578.5,912.0 1580.8,911.7 1583.1,911.4 1585.4,911.3 1587.7,914.7 1590.0,910.5 1592.4,912.3 1594.1,911.1 1595.9,917.3 1597.7,916.6 1599.4,920.3 1601.2,918.3 1603.0,922.5 1604.8,922.4 1606.5,922.8 1609.0,923.7 1611.4,922.6 1613.8,920.4 1616.2,917.3 1618.7,918.8 1621.2,916.2 1623.7,918.9 1626.3,918.0 1628.8,914.7 1629.8,919.1 1630.8,917.9 1631.8,921.7 1632.9,922.8 1634.9,922.8 1636.9,920.1 1638.9,917.6 1639.3,917.0 1639.7,913.1 1640.1,911.6 1640.5,909.4 1641.0,904.8 1641.4,906.2 1641.8,904.1 1642.2,896.8 1642.6,899.6 1643.0,897.2 1643.4,893.3 1643.8,887.5 1644.2,890.0 1644.6,883.4 1645.0,883.2 1645.3,883.5 1645.6,879.6 1645.9,874.0 1646.2,872.4 1646.5,872.8 1646.8,870.2 1647.1,868.9 1647.4,867.7 1647.7,861.5 1648.0,858.1 1648.3,861.0 1648.6,853.7 1649.0,856.3 1649.3,849.8 1649.6,851.5 1649.9,849.1 1650.2,847.4 1650.5,843.3 1650.8,842.9 1651.1,838.6 1651.4,834.7 1651.8,835.1 1652.2,831.0 1652.6,832.0 1652.9,829.1 1653.3,825.2 1653.7,823.3 1654.0,818.3 1654.4,816.1 1654.8,817.0 1655.1,814.3 1658.2,814.2 1661.2,814.3 1661.7,818.6 1662.1,819.4 1662.6,819.0 1663.0,822.5 1663.5,827.0 1663.9,827.9 1664.4,827.3 1664.8,834.2 1665.3,834.6 1665.8,838.6 1666.3,836.6 1666.8,841.4 1667.3,842.7 1667.8,847.1 1668.3,846.7 1668.8,848.4 1669.3,852.0 1669.8,856.9 1670.3,854.2 1670.8,856.5 1671.3,860.9 1674.4,861.6 1677.4,860.9 1678.3,865.1 1679.1,865.0 1680.0,866.6 1680.9,871.0 1681.7,872.5 1682.6,870.6 1683.5,875.1 1685.8,876.8 1688.2,872.7 1690.6,872.9 1692.9,875.6 1695.3,872.9 1697.7,873.0 1699.7,873.7 1701.7,869.1 1703.7,872.1 1705.8,867.2 1707.8,866.0 1709.8,867.0 1711.8,865.7 1713.9,863.6 1715.9,863.5 1717.9,864.4 1719.9,860.9 1721.7,860.6 1723.4,855.2 1725.1,855.5 1726.9,855.3 1728.6,853.6 1730.3,853.4 1732.1,850.8 1734.1,849.3 1736.1,845.7 1738.2,845.3 1740.2,847.3 1742.2,843.2 1744.2,842.7 1746.0,842.7 1747.7,842.5 1749.4,839.0 1751.2,837.9 1752.9,836.0 1754.6,832.9 1756.4,832.5 1758.9,835.3 1761.4,833.4 1764.0,836.3 1766.5,834.6 1768.9,832.7 1771.4,835.0 1773.8,833.7 1776.2,831.9 1778.7,830.5 1780.7,831.2 1782.7,830.5 1784.7,835.1 1786.8,833.8 1788.8,836.5 1790.8,836.6 1793.3,835.0 1795.9,835.3 1798.4,836.1 1800.9,838.6 1802.6,838.6 1804.3,833.4 1806.0,835.8 1807.7,831.1 1809.4,830.6 1811.1,828.5 1813.8,826.7 1816.5,827.3 1819.2,825.6 1820.7,825.1 1822.2,828.5 1823.7,833.2 1825.2,832.5 1827.3,829.0 1829.3,829.9 1831.3,827.3 1833.3,827.5 1835.4,828.6 1837.4,828.2 1839.4,829.4 1841.4,835.9 1843.5,834.6 1845.9,836.0 1848.3,835.4 1850.7,835.1 1853.2,835.5 1855.6,832.5 1857.3,829.2 1859.1,830.1 1860.8,828.2 1862.5,827.2 1864.3,827.7 1866.0,825.3 1867.8,822.4 1869.8,824.0 1871.8,818.2 1873.8,820.2 1875.9,819.3 1877.9,818.7 1879.9,816.3 1882.6,817.4 1885.3,819.0 1888.0,817.5 1889.2,824.4 1887.5,825.3 1885.7,830.9 1884.0,830.5 1882.3,831.7 1880.6,834.4 1878.9,837.8 1877.2,838.4 1875.5,837.9 1873.8,840.6 1871.1,838.4 1868.4,838.3 1865.7,838.6 1863.2,840.3 1860.7,843.4 1858.1,843.9 1855.6,842.7 1853.2,842.5 1850.7,842.9 1848.3,845.6 1845.9,843.1 1843.5,844.7 1841.4,842.6 1839.4,838.7 1837.4,838.0 1835.4,838.4 1833.3,836.6 1831.7,839.3 1830.1,840.5 1828.5,840.7 1826.8,845.6 1825.2,844.7 1823.2,844.2 1821.2,840.3 1819.2,838.6 1817.1,842.5 1815.1,838.6 1813.1,842.5 1811.1,843.4 1809.0,842.8 1807.0,842.4 1805.0,844.7 1802.6,843.1 1800.3,844.7 1797.9,845.1 1795.5,849.8 1793.2,850.2 1790.8,848.7 1788.8,848.9 1786.8,844.1 1784.7,843.2 1782.7,842.2 1780.7,844.5 1778.7,840.6 1776.6,839.8 1774.6,844.3 1772.6,844.7 1770.6,844.9 1768.5,848.3 1766.5,846.7 1764.0,844.9 1761.4,845.8 1758.9,843.3 1756.4,844.7 1754.6,843.9 1752.9,844.9 1751.2,848.0 1749.4,848.3 1747.7,849.5 1746.0,856.1 1744.2,854.8 1742.2,855.0 1740.2,859.7 1738.2,860.0 1736.1,861.5 1734.1,862.4 1732.1,862.9 1730.4,867.1 1728.7,868.4 1727.0,869.2 1725.3,870.0 1723.6,872.4 1722.0,873.0 1719.9,875.3 1717.9,875.3 1715.9,876.1 1713.9,875.1 1711.8,880.0 1709.8,879.1 1708.5,880.9 1707.1,880.5 1705.8,882.9 1704.4,888.8 1703.1,887.2 1701.7,889.8 1700.4,893.4 1699.0,896.2 1697.7,896.1 1694.6,895.8 1691.6,897.3 1691.2,898.9 1690.8,901.4 1690.4,901.4 1690.0,908.3 1689.6,905.8 1689.1,913.3 1688.7,911.0 1688.3,913.2 1687.9,919.3 1687.5,919.6 1685.5,922.4 1683.5,921.6 1682.8,917.8 1682.1,917.2 1681.5,914.4 1680.8,913.4 1680.1,908.0 1679.4,907.5 1678.6,911.6 1677.7,914.9 1676.8,915.5 1676.0,919.1 1675.1,921.5 1674.2,920.7 1673.4,923.7 1672.3,927.6 1671.3,929.6 1670.3,930.2 1669.3,929.6 1668.3,934.4 1667.3,938.1 1666.3,936.7 1665.3,939.9 1664.4,942.7 1663.5,946.1 1662.6,946.5 1661.7,945.4 1660.8,950.7 1659.9,950.6 1659.0,956.0 1658.1,957.0 1657.2,958.1 1656.0,959.0 1654.8,964.3 1653.7,964.9 1652.5,965.3 1651.4,970.1 1650.2,972.4 1649.1,972.3 1647.0,972.9 1645.0,971.4 1643.0,968.6 1641.0,966.2 1638.5,967.0 1636.1,966.3 1633.7,965.6 1631.2,967.9 1628.8,965.0 1626.3,964.9 1623.7,964.2 1621.2,968.6 1618.7,968.2 1616.7,969.4 1614.6,970.9 1612.6,972.4 1610.6,971.7 1608.6,974.3 1606.5,971.6 1604.5,969.9 1602.5,972.8 1600.5,972.5 1598.4,970.3 1596.4,968.2 1594.0,967.0 1591.5,972.8 1589.1,972.9 1586.7,972.1 1584.3,973.1 1581.8,969.7 1579.4,973.9 1577.0,972.1 1574.5,971.5 1572.1,970.2 1570.1,968.4 1568.1,973.3 1566.0,970.2 1564.0,973.6 1562.0,972.6 1560.0,974.6 1557.9,976.3 1555.4,977.7 1552.9,976.1 1550.3,975.6 1547.8,973.1 1545.5,971.5 1543.2,971.6 1540.9,972.4 1538.5,968.8 1536.2,970.5 1533.9,973.3 1531.6,970.2 1529.6,972.5 1527.6,974.0 1525.5,971.7 1523.5,974.8 1521.5,976.2 1519.5,976.6 1517.4,976.3 1515.1,975.3 1512.7,973.1 1510.3,971.6 1508.0,975.8 1505.6,975.3 1503.3,972.3 1500.8,970.2 1498.4,972.1 1496.0,969.3 1493.5,969.7 1491.1,968.2 1488.7,969.3 1486.4,965.6 1484.0,966.4 1481.7,963.6 1479.3,964.2 1476.9,963.3 1476.3,962.9 1475.6,966.3 1474.9,968.6 1474.2,974.3 1473.6,972.1 1472.9,976.3 1471.4,975.7 1469.8,969.9 1468.3,972.9 1466.8,968.2 1464.5,966.9 1462.2,967.1 1459.9,968.3 1457.5,972.9 1455.2,972.0 1452.9,973.9 1450.6,972.3 1448.2,971.8 1445.7,969.3 1443.3,970.1 1440.9,970.4 1438.5,970.2 1436.4,974.0 1434.4,970.4 1432.4,971.8 1430.4,976.2 1428.3,973.1 1426.3,976.3 1423.9,979.3 1421.4,976.0 1419.0,977.9 1416.6,978.8 1414.2,978.3 1411.7,979.8 1409.3,974.3 1406.9,977.8 1404.4,973.3 1402.0,974.3 1399.5,976.2 1396.9,973.0 1394.4,977.9 1391.9,977.1 1390.2,973.5 1388.5,971.8 1386.8,969.0 1385.1,968.8 1383.4,967.0 1381.8,966.2 1379.7,969.9 1377.7,968.8 1375.7,968.5 1373.7,973.0 1371.6,969.4 1369.6,972.3 1367.2,970.3 1364.7,974.0 1362.3,973.6 1359.9,971.7 1357.5,970.2 1355.4,971.3 1353.4,964.5 1351.4,967.6 1349.4,964.9 1347.3,962.1 1345.9,964.8 1344.4,967.5 1343.0,965.1 1341.5,967.4 1340.1,968.8 1338.6,972.4 1337.2,974.3 1335.2,973.5 1333.2,972.5 1331.1,970.5 1329.1,971.6 1327.1,971.1 1325.1,968.2 1323.4,971.1 1321.7,968.6 1320.0,970.7 1318.3,972.6 1316.6,974.2 1314.9,977.1 1312.4,978.3 1309.9,977.0 1307.3,980.2 1304.8,980.4 1303.6,977.5 1302.5,975.5 1301.3,975.4 1300.2,974.7 1299.0,968.5 1297.9,967.4 1296.7,966.2 1295.5,970.9 1294.3,968.6 1293.1,969.6 1291.8,972.5 1290.6,976.3 1289.2,976.1 1287.7,973.5 1286.3,972.7 1284.8,968.2 1283.4,963.6 1281.9,963.1 1280.5,962.1 1279.2,965.4 1278.0,965.6 1276.7,966.2 1275.4,969.5 1274.2,972.0 1272.9,973.5 1271.6,976.0 1270.4,978.3 1269.4,974.3 1268.4,971.6 1267.3,973.8 1266.3,971.5 1265.3,967.7 1264.3,966.2 1261.3,965.0 1258.2,968.2"/>
<polygon points="163.2,1449.5 165.9,1450.1 168.5,1450.7 171.2,1451.1 173.8,1451.8 176.4,1450.4 178.6,1449.9 180.9,1449.3 183.1,1444.7 185.3,1445.1 186.7,1447.2 188.2,1451.1 189.7,1452.3 191.1,1455.4 192.6,1454.7 194.1,1458.3 196.6,1459.2 199.1,1459.3 201.6,1461.3 204.1,1462.4 206.7,1461.3 209.2,1463.0 211.7,1464.9 212.8,1466.6 213.9,1471.4 215.0,1473.3 216.1,1473.6 217.2,1478.4 218.3,1478.5 219.4,1482.7 220.5,1484.8 221.8,1485.6 223.0,1487.4 224.3,1492.7 225.6,1492.5 226.8,1494.8 228.1,1499.7 229.3,1500.2 232.6,1500.4 235.9,1498.0 237.2,1499.8 238.5,1504.7 239.7,1505.7 241.0,1508.7 242.2,1509.5 243.5,1514.7 244.8,1515.6 247.0,1517.6 249.2,1520.0 251.4,1521.0 253.6,1520.2 255.8,1522.2 258.0,1523.5 260.2,1524.6 262.4,1526.3 264.6,1527.7 266.8,1531.1 268.1,1533.0 269.4,1536.7 270.8,1537.2 272.1,1542.3 273.4,1544.3 275.6,1541.8 277.8,1539.8 280.0,1538.5 281.9,1541.8 283.7,1542.6 285.5,1544.1 287.4,1546.7 289.2,1549.6 291.0,1550.9 293.7,1548.2 296.3,1550.5 299.0,1546.0 301.6,1547.6 304.3,1545.6 306.5,1548.1 308.7,1546.4 310.9,1550.4 313.1,1550.1 315.3,1552.1 317.5,1553.1 320.0,1551.6 322.5,1552.1 325.0,1552.9 327.6,1556.0 330.1,1553.6 332.6,1555.9 335.1,1555.3 337.7,1555.7 340.3,1554.7 342.8,1551.4 345.4,1550.4 348.0,1549.9 350.5,1548.7 353.3,1551.1 356.0,1550.1 358.8,1553.9 361.6,1554.4 364.0,1555.0 366.5,1554.8 369.0,1551.4 371.5,1554.3 374.0,1550.7 376.4,1551.2 378.9,1551.7 381.4,1550.9 382.9,1554.4 384.3,1554.4 385.8,1558.6 387.3,1559.3 388.7,1560.5 390.2,1563.2 392.8,1561.4 395.5,1559.8 398.1,1558.3 400.8,1557.4 403.4,1557.5 406.2,1557.1 408.9,1557.1 411.7,1553.0 414.4,1553.1 416.6,1552.9 418.9,1557.8 421.1,1557.6 423.3,1558.6 425.5,1559.5 427.7,1561.9 429.9,1560.9 432.1,1560.4 434.3,1557.8 436.5,1556.3 438.7,1555.3 440.9,1555.0 443.1,1559.3 445.3,1557.4 447.5,1560.3 449.7,1562.8 451.9,1561.5 454.1,1564.1 456.3,1566.5 458.5,1568.9 460.7,1569.3 462.9,1571.5 465.1,1572.0 466.8,1568.4 468.4,1567.4 470.1,1564.2 471.7,1563.2 474.4,1563.8 477.0,1561.1 479.7,1560.9 482.3,1562.2 485.0,1559.7 487.6,1561.4 490.3,1562.3 492.9,1560.9 495.5,1561.4 498.2,1561.9 501.1,1564.2 504.1,1564.8 507.0,1566.3 509.6,1565.1 512.3,1565.1 514.9,1563.7 517.6,1564.1 520.2,1564.1 522.4,1564.2 524.6,1562.5 526.8,1559.6 529.0,1557.5 531.2,1555.3 533.4,1552.7 535.6,1551.7 537.8,1550.9 540.4,1551.2 543.0,1550.7 545.6,1548.2 548.1,1549.0 550.7,1548.2 553.3,1546.5 555.5,1548.5 557.7,1549.7 559.9,1551.4 562.1,1551.3 564.3,1553.1 566.5,1552.3 568.7,1549.2 570.9,1548.3 573.1,1547.8 575.3,1545.9 577.5,1542.9 579.7,1542.1 582.6,1543.7 585.4,1542.6 588.2,1542.4 591.1,1540.3 593.9,1542.2 596.7,1541.2 599.6,1542.1 602.1,1542.1 604.6,1540.7 607.1,1541.3 609.6,1540.1 612.1,1540.0 614.7,1537.7 617.2,1537.7 619.7,1538.8 622.2,1539.8 624.7,1540.7 627.3,1539.6 629.8,1542.0 632.3,1542.8 634.8,1542.1 637.4,1541.6 640.0,1541.6 642.5,1540.4 645.1,1537.7 647.7,1536.7 650.2,1535.5 652.9,1534.9 655.5,1537.9 658.2,1538.9 660.8,1537.8 663.5,1538.5 665.7,1537.6 667.9,1536.1 670.1,1534.5 672.3,1530.9 674.5,1531.5 676.7,1528.9 679.6,1528.4 682.6,1528.0 685.5,1526.6 686.8,1523.7 688.1,1521.8 689.5,1519.7 690.8,1516.6 692.1,1513.4 694.3,1516.4 696.5,1516.1 698.7,1520.0 700.3,1516.6 701.9,1515.4 703.4,1514.0 705.0,1510.2 706.6,1509.7 708.2,1507.3 709.7,1504.6 712.5,1501.9 715.2,1502.3 718.0,1500.3 720.8,1500.2 721.9,1496.0 723.0,1493.7 724.1,1491.8 725.2,1488.8 726.3,1486.2 727.4,1484.8 728.6,1480.6 729.9,1479.6 731.1,1476.8 732.4,1475.1 733.7,1472.5 734.9,1468.7 736.2,1467.1 738.8,1467.7 741.5,1463.6 744.1,1464.2 746.8,1462.8 749.4,1462.7 750.9,1460.2 752.3,1456.9 753.8,1457.3 755.3,1453.5 756.8,1450.1 758.2,1449.5 762.6,1450.4 763.3,1448.4 763.9,1444.1 764.6,1443.3 765.3,1440.1 765.9,1438.6 766.6,1437.5 767.3,1434.6 767.9,1431.0 768.9,1433.1 769.8,1436.8 770.8,1438.6 771.7,1439.9 772.7,1441.5 773.6,1445.1 774.6,1448.0 775.5,1450.4 776.5,1454.3 777.4,1456.9 778.4,1458.1 779.3,1459.7 780.3,1462.7 784.7,1460.5 785.3,1459.5 786.0,1453.9 786.6,1451.9 787.3,1451.1 788.0,1448.8 788.6,1444.7 789.3,1444.0 790.0,1442.6 790.6,1438.3 791.3,1436.3 791.7,1433.6 792.1,1430.4 792.5,1428.1 792.9,1428.1 793.3,1423.5 793.8,1423.1 794.2,1420.4 794.6,1416.8 795.0,1413.1 795.4,1413.2 795.8,1409.0 796.2,1406.2 796.6,1403.4 797.1,1403.3 797.5,1399.1 797.9,1396.6 798.4,1393.4 799.0,1391.6 799.5,1387.8 800.1,1387.2 800.6,1384.0 801.2,1381.0 801.7,1380.3 802.3,1376.8 804.1,1375.8 805.8,1370.6 807.6,1370.3 809.3,1367.2 811.1,1365.8 814.4,1366.2 817.7,1363.6 818.6,1362.2 819.5,1357.8 820.4,1355.5 821.2,1352.6 822.1,1353.2 823.0,1348.3 823.9,1347.0 824.8,1344.1 825.7,1342.3 826.5,1339.3 827.9,1337.5 829.2,1335.8 830.5,1331.3 831.8,1331.5 833.1,1328.3 833.9,1325.1 834.6,1323.5 835.3,1320.4 836.1,1317.8 836.8,1316.2 837.6,1313.5 838.3,1310.7 839.0,1309.6 839.8,1306.3 842.7,1307.3 845.6,1306.1 848.6,1308.5 850.8,1305.4 853.0,1303.9 855.2,1301.9 855.8,1300.7 856.5,1298.0 857.2,1294.1 857.8,1289.5 858.5,1289.7 859.1,1285.7 859.8,1283.6 860.5,1281.5 861.1,1278.5 861.8,1275.4 864.0,1273.2 866.2,1271.0 869.3,1277.6 868.5,1281.6 867.8,1282.3 867.0,1284.8 866.3,1289.0 865.5,1289.1 864.8,1292.0 864.0,1295.3 863.1,1298.9 862.2,1298.6 861.4,1303.9 860.5,1305.8 859.6,1307.6 857.8,1309.3 856.1,1310.7 854.3,1314.4 852.5,1316.8 850.8,1317.3 848.1,1315.3 845.5,1315.7 842.8,1315.1 842.1,1317.8 841.3,1320.1 840.6,1322.0 839.8,1323.9 839.1,1328.0 838.3,1331.3 837.6,1332.7 835.9,1333.4 834.2,1336.2 832.6,1340.5 830.9,1341.5 830.0,1345.0 829.1,1346.9 828.2,1347.0 827.3,1351.9 826.4,1355.2 825.4,1357.7 824.5,1359.0 823.6,1359.0 822.7,1364.3 821.8,1364.4 820.8,1368.3 819.9,1370.2 817.0,1373.0 814.0,1373.3 811.1,1373.7 810.2,1375.2 809.3,1378.6 808.5,1383.7 807.6,1383.7 806.7,1387.8 806.1,1390.7 805.5,1392.4 804.9,1393.9 804.3,1398.0 803.8,1398.4 803.2,1401.1 802.6,1404.5 802.0,1405.9 801.4,1409.9 800.9,1410.8 800.5,1415.3 800.0,1418.4 799.5,1421.5 799.0,1421.4 798.5,1425.0 798.1,1427.2 797.6,1430.8 797.1,1433.0 796.6,1437.1 796.2,1437.7 795.7,1440.7 795.0,1441.5 794.4,1446.3 793.7,1446.7 793.0,1450.9 792.4,1452.8 791.7,1456.7 791.1,1457.9 790.4,1460.5 789.7,1461.7 789.1,1464.9 786.1,1466.6 783.2,1467.0 780.3,1469.4 779.2,1467.7 778.1,1464.3 777.0,1460.3 775.8,1458.1 774.7,1456.0 773.6,1453.9 772.5,1452.3 771.4,1447.8 770.2,1447.3 769.1,1444.6 767.9,1441.6 767.2,1442.5 766.4,1447.0 765.6,1447.3 764.9,1449.8 764.1,1453.9 763.4,1455.0 762.6,1458.3 760.8,1461.7 759.0,1462.4 757.1,1463.9 755.3,1467.6 753.4,1466.9 751.6,1470.7 749.0,1472.5 746.3,1471.2 743.7,1472.6 741.0,1476.5 738.4,1476.0 737.3,1479.1 736.2,1480.0 735.2,1482.1 734.1,1487.7 733.0,1489.1 732.0,1492.2 730.9,1493.6 730.1,1494.7 729.3,1498.9 728.5,1500.3 727.7,1502.3 726.9,1505.1 726.1,1508.5 725.3,1510.0 724.5,1512.6 723.8,1514.1 723.0,1517.8 720.2,1517.9 717.5,1516.2 714.7,1515.6 711.9,1513.4 710.7,1515.4 709.5,1519.1 708.3,1520.1 707.0,1522.6 705.8,1524.7 704.6,1527.5 703.4,1528.5 702.1,1529.6 700.9,1533.3 699.3,1529.4 697.6,1527.8 696.0,1525.0 694.3,1524.4 693.6,1528.3 692.8,1529.3 692.1,1532.7 691.4,1532.4 690.6,1536.6 689.9,1540.5 689.2,1542.0 688.4,1543.8 687.7,1546.5 685.5,1547.7 683.3,1547.7 681.1,1549.2 678.9,1550.5 676.7,1553.1 674.0,1554.0 671.4,1555.3 668.7,1558.4 666.1,1557.1 663.5,1559.7 660.9,1559.7 658.3,1560.7 655.7,1561.1 653.2,1562.5 650.6,1563.2 648.0,1565.0 645.4,1565.6 642.7,1564.7 640.1,1568.6 637.5,1567.3 634.8,1568.5 632.6,1572.0 630.4,1573.1 628.2,1575.0 626.0,1576.2 623.8,1578.2 621.6,1577.8 619.4,1572.7 617.2,1572.0 614.7,1573.1 612.1,1572.2 609.6,1574.0 607.1,1574.6 604.6,1573.0 602.1,1573.6 599.6,1575.1 597.0,1573.6 594.5,1574.5 592.0,1574.2 589.5,1575.5 587.0,1577.8 584.4,1575.8 581.9,1576.5 579.3,1576.7 576.6,1578.1 574.0,1578.3 571.3,1580.8 568.7,1580.9 566.1,1582.3 563.4,1580.9 560.8,1581.8 558.1,1583.9 555.5,1583.9 553.0,1585.1 550.4,1583.6 547.9,1582.4 545.4,1583.9 542.9,1580.0 540.4,1579.7 537.8,1580.9 535.3,1582.6 532.7,1582.0 530.1,1581.4 527.6,1584.0 525.0,1586.3 522.4,1585.3 519.9,1586.1 517.5,1586.3 515.0,1586.1 512.5,1586.8 510.0,1590.6 507.5,1589.9 505.1,1592.2 502.6,1591.4 500.4,1588.6 498.2,1588.0 496.0,1586.1 493.8,1586.1 491.6,1583.6 489.4,1583.9 487.2,1584.4 485.0,1586.3 482.8,1587.2 480.6,1587.6 478.4,1590.6 475.7,1589.1 473.1,1592.6 470.4,1589.9 467.8,1591.3 465.1,1591.4 462.9,1589.3 460.7,1588.0 458.5,1584.7 456.3,1583.7 454.1,1582.6 451.6,1581.7 449.1,1583.8 446.6,1585.6 444.0,1585.0 441.5,1586.4 439.0,1584.6 436.5,1586.1 433.7,1584.1 431.0,1585.7 428.2,1585.3 425.5,1585.3 422.7,1584.3 420.0,1584.9 417.2,1585.0 414.4,1583.9 412.0,1586.2 409.6,1584.7 407.2,1586.0 404.7,1588.1 402.3,1586.7 399.9,1587.1 397.5,1588.5 395.1,1588.5 392.6,1591.7 390.2,1591.4 388.0,1591.1 385.8,1587.8 383.6,1585.6 381.4,1583.9 379.2,1583.9 376.7,1583.3 374.1,1583.1 371.6,1584.6 369.1,1585.5 366.6,1584.6 364.1,1584.3 361.6,1586.1 359.0,1586.6 356.5,1583.9 354.0,1584.1 351.5,1584.1 349.0,1584.1 346.4,1582.8 343.9,1583.9 341.4,1584.9 338.9,1585.8 336.4,1588.6 333.9,1589.2 331.3,1591.7 328.8,1592.1 326.3,1592.8 323.7,1592.4 321.2,1590.5 318.6,1588.8 316.0,1588.9 313.4,1587.1 310.9,1585.3 308.3,1587.4 305.7,1587.1 303.2,1587.5 300.6,1586.5 298.0,1589.0 295.4,1588.4 292.8,1586.6 290.2,1584.4 287.5,1582.8 284.9,1581.9 282.2,1581.7 280.5,1582.8 278.7,1586.3 276.9,1586.8 275.2,1587.9 273.4,1591.4 271.6,1590.4 269.9,1587.8 268.1,1583.9 266.4,1582.1 264.6,1581.7 262.4,1582.4 260.2,1585.2 258.0,1589.0 255.8,1589.7 253.9,1589.2 252.1,1586.0 250.3,1582.5 248.4,1581.2 246.6,1578.9 244.8,1577.3 242.6,1578.6 240.4,1579.2 238.1,1583.1 235.9,1585.9 233.7,1587.3 231.5,1588.4 228.8,1585.8 226.0,1586.3 223.3,1583.9 220.5,1583.9 218.8,1582.7 217.0,1579.7 215.2,1579.4 213.5,1576.9 211.7,1573.8 209.5,1574.1 207.3,1576.5 205.1,1580.4 202.9,1580.4 200.7,1582.0 198.5,1583.9 196.0,1584.4 193.4,1586.2 190.9,1587.4 188.4,1586.6 185.9,1588.8 183.4,1588.1 180.9,1588.4 178.3,1586.3 175.8,1588.2 173.3,1586.2 170.8,1584.2 168.3,1586.9 165.7,1582.9 163.2,1583.9"/>
<polygon points="1272.8,1437.3 1288.0,1437.3 1319.0,1444.1 1375.4,1454.3 1431.7,1465.5 1488.1,1476.8 1533.1,1486.4 1566.9,1492.0 1600.7,1493.7 1628.9,1495.4 1645.8,1492.0 1668.4,1492.0 1690.9,1494.8 1713.4,1494.3 1741.6,1494.8 1769.8,1498.2 1797.9,1499.3 1826.1,1500.5 1854.3,1499.9 1882.5,1502.7 1905.0,1500.5 1928.7,1498.2 1928.7,1517.4 1905.0,1521.9 1882.5,1526.4 1854.3,1525.8 1826.1,1525.2 1797.9,1527.5 1769.8,1525.8 1741.6,1524.7 1724.7,1524.1 1702.2,1528.6 1679.6,1533.1 1657.1,1535.9 1634.6,1544.4 1600.7,1550.0 1566.9,1552.9 1533.1,1554.5 1476.8,1555.7 1431.7,1554.5 1375.4,1554.5 1319.0,1554.0 1272.8,1554.0"/>
</g>
<polyline points="962,884 969,888 975,901 978.5,893 983,869 986.5,876 995,877.5 1010,875.5 1030,874.5 1050,873 1063,873.5 1077,871" fill="none" stroke="#1a1a1a" stroke-width="5.5" stroke-linejoin="round"/>
<line x1="230.7" y1="259.3" x2="818.3" y2="259.3" stroke="#1a1a1a" stroke-width="3.7"/>
<polyline points="187.3,462.9 171.7,462.9 171.7,545.8 187.3,545.8" fill="none" stroke="#1a1a1a" stroke-width="3.3"/>
<polyline points="214.3,581.7 214.3,596.5 301.1,596.5 301.1,581.7" fill="none" stroke="#1a1a1a" stroke-width="3.3"/>
<line x1="1669.3" y1="309.5" x2="2022" y2="309.5" stroke="#333" stroke-width="3.4"/>
<line x1="1247.3" y1="347.2" x2="2022" y2="347.2" stroke="#1a1a1a" stroke-width="3.4"/>
<polyline points="1226.7,443.5 1211.7,443.5 1211.7,525.5 1226.7,525.5" fill="none" stroke="#1a1a1a" stroke-width="3.3"/>
<polyline points="1240,546.7 1240,562.2 1325,562.2 1325,546.7" fill="none" stroke="#1a1a1a" stroke-width="3.3"/>
<line x1="412.7" y1="773.3" x2="1074.3" y2="773.3" stroke="#1a1a1a" stroke-width="3.4"/>
<line x1="141.7" y1="799.5" x2="568.3" y2="799.5" stroke="#1a1a1a" stroke-width="3.4"/>
<polyline points="149,906.2 133.3,906.2 133.3,987.5 149,987.5" fill="none" stroke="#1a1a1a" stroke-width="3.3"/>
<polyline points="165,1015.7 165,1030.5 250.7,1030.5 250.7,1015.7" fill="none" stroke="#1a1a1a" stroke-width="3.3"/>
<line x1="1593.3" y1="732.5" x2="1876" y2="732.5" stroke="#1a1a1a" stroke-width="3.8"/>
<line x1="1260" y1="764.3" x2="1879.3" y2="764.3" stroke="#1a1a1a" stroke-width="3.8"/>
<polyline points="1243.3,906.2 1227.7,906.2 1227.7,987.5 1243.3,987.5" fill="none" stroke="#1a1a1a" stroke-width="3.3"/>
<polyline points="1260.6,998.3 1260.6,1013.9 1345,1013.9 1345,998.3" fill="none" stroke="#1a1a1a" stroke-width="3.3"/>
<line x1="436" y1="1233.5" x2="856.2" y2="1233.5" stroke="#1a1a1a" stroke-width="3.4"/>
<line x1="151.7" y1="1257.3" x2="865.5" y2="1257.3" stroke="#1a1a1a" stroke-width="3.4"/>
<polyline points="144,1506.2 128.3,1506.2 128.3,1587.5 144,1587.5" fill="none" stroke="#1a1a1a" stroke-width="3.3"/>
<polyline points="160,1602.7 160,1618.2 245.7,1618.2 245.7,1602.7" fill="none" stroke="#1a1a1a" stroke-width="3.3"/>
<line x1="1564.3" y1="1305" x2="1936" y2="1305" stroke="#1a1a1a" stroke-width="4.2"/>
<line x1="1299" y1="1334" x2="1926" y2="1334" stroke="#1a1a1a" stroke-width="3.6"/>
<polyline points="1263.3,1476.9 1247.7,1476.9 1247.7,1558.1 1263.3,1558.1" fill="none" stroke="#1a1a1a" stroke-width="3.3"/>
<polyline points="1268.3,1582.3 1268.3,1597.2 1353.4,1597.2 1353.4,1582.3" fill="none" stroke="#1a1a1a" stroke-width="3.3"/>
<rect x="324.8" y="2051.2" width="77.5" height="459.6" fill="#1a1a1a"/>
<line x1="363.5" y1="2052.2" x2="363.5" y2="2025.3" stroke="#1a1a1a" stroke-width="3.7"/>
<line x1="345.1" y1="2025.3" x2="381.9" y2="2025.3" stroke="#1a1a1a" stroke-width="3"/>
<line x1="363.5" y1="2510.8" x2="363.5" y2="2535.8" stroke="#1a1a1a" stroke-width="6"/>
<rect x="439.2" y="2264.7" width="77.5" height="246.1" fill="#1a1a1a"/>
<rect x="448.9" y="2274.3" width="58.3" height="236.5" fill="#989898"/>
<line x1="478" y1="2265.7" x2="478" y2="2228.3" stroke="#1a1a1a" stroke-width="3.7"/>
<line x1="459.6" y1="2228.3" x2="496.4" y2="2228.3" stroke="#1a1a1a" stroke-width="4.2"/>
<line x1="478" y1="2510.8" x2="478" y2="2535.8" stroke="#1a1a1a" stroke-width="6"/>
<rect x="554.0" y="2268.5" width="77.5" height="242.3" fill="#1a1a1a"/>
<rect x="563.6" y="2278.1" width="58.3" height="232.7" fill="#787878"/>
<line x1="592.8" y1="2269.5" x2="592.8" y2="2227.8" stroke="#1a1a1a" stroke-width="3.7"/>
<line x1="574.4" y1="2227.8" x2="611.1999999999999" y2="2227.8" stroke="#1a1a1a" stroke-width="3"/>
<line x1="592.8" y1="2510.8" x2="592.8" y2="2535.8" stroke="#1a1a1a" stroke-width="6"/>
<rect x="669.0" y="2397.5" width="77.5" height="113.3" fill="#1a1a1a"/>
<rect x="678.6" y="2407.1" width="58.3" height="103.7" fill="#cacaca"/>
<line x1="707.7" y1="2398.5" x2="707.7" y2="2362.9" stroke="#1a1a1a" stroke-width="3.7"/>
<line x1="689.3000000000001" y1="2362.9" x2="726.1" y2="2362.9" stroke="#1a1a1a" stroke-width="2.6"/>
<line x1="707.7" y1="2510.8" x2="707.7" y2="2535.8" stroke="#1a1a1a" stroke-width="6"/>
<rect x="783.5" y="2465.0" width="77.5" height="45.8" fill="#1a1a1a"/>
<rect x="793.1" y="2474.6" width="58.3" height="36.2" fill="#606060"/>
<line x1="822.3" y1="2466" x2="822.3" y2="2454.6" stroke="#1a1a1a" stroke-width="3.7"/>
<line x1="803.9" y1="2454.6" x2="840.6999999999999" y2="2454.6" stroke="#1a1a1a" stroke-width="3"/>
<line x1="822.3" y1="2510.8" x2="822.3" y2="2535.8" stroke="#1a1a1a" stroke-width="6"/>
<line x1="286.7" y1="1895.0000000000002" x2="286.7" y2="2513.8" stroke="#1a1a1a" stroke-width="6.2"/>
<line x1="262" y1="2510.8" x2="901.5" y2="2510.8" stroke="#1a1a1a" stroke-width="6.2"/>
<line x1="262" y1="2357.6" x2="286.7" y2="2357.6" stroke="#1a1a1a" stroke-width="6"/>
<line x1="262" y1="2204.4" x2="286.7" y2="2204.4" stroke="#1a1a1a" stroke-width="6"/>
<line x1="262" y1="2051.2" x2="286.7" y2="2051.2" stroke="#1a1a1a" stroke-width="6"/>
<line x1="262" y1="1898.0" x2="286.7" y2="1898.0" stroke="#1a1a1a" stroke-width="6"/>
<text x="464.4" y="2215" font-size="40" text-anchor="middle" fill="#1a1a1a">*</text>
<text x="497.2" y="2215" font-size="40" text-anchor="middle" fill="#1a1a1a">*</text>
<text x="589.5" y="2219" font-size="40" text-anchor="middle" fill="#1a1a1a">*</text>
<text x="686.3" y="2357" font-size="40" text-anchor="middle" fill="#1a1a1a">*</text>
<text x="712.7" y="2357" font-size="40" text-anchor="middle" fill="#1a1a1a">*</text>
<text x="735.2" y="2357" font-size="40" text-anchor="middle" fill="#1a1a1a">*</text>
<text x="799.5" y="2443.5" font-size="40" text-anchor="middle" fill="#1a1a1a">*</text>
<text x="826" y="2443.5" font-size="40" text-anchor="middle" fill="#1a1a1a">*</text>
<text x="850" y="2443.5" font-size="40" text-anchor="middle" fill="#1a1a1a">*</text>
<text transform="translate(354.1 2575.3) rotate(-45)" font-size="45" font-weight="bold" text-anchor="end" fill="#1a1a1a">CTX-2</text>
<text transform="translate(493.9 2578.7) rotate(-45)" font-size="45" font-weight="bold" text-anchor="end" fill="#1a1a1a">nif</text>
<text transform="translate(610.4 2578.7) rotate(-45)" font-size="45" font-weight="bold" text-anchor="end" fill="#1a1a1a">KB + nif</text>
<text transform="translate(720.4 2580.5) rotate(-45)" font-size="45" font-weight="bold" text-anchor="end" fill="#1a1a1a">APB</text>
<text transform="translate(839.1 2579.1) rotate(-45)" font-size="45" font-weight="bold" text-anchor="end" fill="#1a1a1a">Ry</text>
<rect x="1386.4" y="2045.7" width="63.6" height="451.6" fill="#1a1a1a"/>
<line x1="1418.2" y1="2046.7" x2="1418.2" y2="2014.1" stroke="#1a1a1a" stroke-width="2.2"/>
<line x1="1402.7" y1="2014.1" x2="1433.7" y2="2014.1" stroke="#1a1a1a" stroke-width="2.4"/>
<line x1="1418.2" y1="2497.3" x2="1418.2" y2="2523.3" stroke="#1a1a1a" stroke-width="6"/>
<rect x="1482.5" y="2473.1" width="63.6" height="24.2" fill="#1a1a1a"/>
<rect x="1490.6" y="2481.2" width="47.4" height="16.1" fill="#989898"/>
<line x1="1514.3" y1="2474.1" x2="1514.3" y2="2468.2" stroke="#1a1a1a" stroke-width="2.2"/>
<line x1="1498.8" y1="2468.2" x2="1529.8" y2="2468.2" stroke="#1a1a1a" stroke-width="3"/>
<line x1="1514.3" y1="2497.3" x2="1514.3" y2="2523.3" stroke="#1a1a1a" stroke-width="6"/>
<rect x="1578.8" y="2090.0" width="63.6" height="407.3" fill="#1a1a1a"/>
<rect x="1586.9" y="2098.1" width="47.4" height="399.2" fill="#787878"/>
<line x1="1610.6" y1="2091" x2="1610.6" y2="1958.2" stroke="#1a1a1a" stroke-width="2.2"/>
<line x1="1595.1" y1="1958.2" x2="1626.1" y2="1958.2" stroke="#1a1a1a" stroke-width="2.4"/>
<line x1="1610.6" y1="2497.3" x2="1610.6" y2="2523.3" stroke="#1a1a1a" stroke-width="6"/>
<rect x="1675.1" y="2200.7" width="63.6" height="296.6" fill="#1a1a1a"/>
<rect x="1683.2" y="2208.8" width="47.4" height="288.5" fill="#cacaca"/>
<line x1="1706.9" y1="2201.7" x2="1706.9" y2="2128.1" stroke="#1a1a1a" stroke-width="2.2"/>
<line x1="1691.4" y1="2128.1" x2="1722.4" y2="2128.1" stroke="#1a1a1a" stroke-width="4.4"/>
<line x1="1706.9" y1="2497.3" x2="1706.9" y2="2523.3" stroke="#1a1a1a" stroke-width="6"/>
<rect x="1771.3" y="2461.1" width="63.6" height="36.2" fill="#1a1a1a"/>
<rect x="1779.4" y="2469.2" width="47.4" height="28.1" fill="#666666"/>
<line x1="1803.1" y1="2462.1" x2="1803.1" y2="2450.3" stroke="#1a1a1a" stroke-width="2.2"/>
<line x1="1787.6" y1="2450.3" x2="1818.6" y2="2450.3" stroke="#1a1a1a" stroke-width="3.9"/>
<line x1="1803.1" y1="2497.3" x2="1803.1" y2="2523.3" stroke="#1a1a1a" stroke-width="6"/>
<rect x="1867.7" y="2050.9" width="63.6" height="446.4" fill="#1a1a1a"/>
<rect x="1875.8" y="2059.0" width="47.4" height="438.3" fill="#989898"/>
<line x1="1899.5" y1="2051.9" x2="1899.5" y2="2045" stroke="#1a1a1a" stroke-width="2.2"/>
<line x1="1884.0" y1="2045" x2="1915.0" y2="2045" stroke="#1a1a1a" stroke-width="2.9"/>
<line x1="1899.5" y1="2497.3" x2="1899.5" y2="2523.3" stroke="#1a1a1a" stroke-width="6"/>
<line x1="1354.2" y1="1882.3000000000002" x2="1354.2" y2="2500.3" stroke="#1a1a1a" stroke-width="6.2"/>
<line x1="1328.1" y1="2497.3" x2="1967.8" y2="2497.3" stroke="#1a1a1a" stroke-width="6.2"/>
<line x1="1328.1" y1="2344.3" x2="1354.2" y2="2344.3" stroke="#1a1a1a" stroke-width="6"/>
<line x1="1328.1" y1="2191.3" x2="1354.2" y2="2191.3" stroke="#1a1a1a" stroke-width="6"/>
<line x1="1328.1" y1="2038.3" x2="1354.2" y2="2038.3" stroke="#1a1a1a" stroke-width="6"/>
<line x1="1328.1" y1="1885.3" x2="1354.2" y2="1885.3" stroke="#1a1a1a" stroke-width="6"/>
<text x="1499" y="2460" font-size="40" text-anchor="middle" fill="#1a1a1a">*</text>
<text x="1527.3" y="2460" font-size="40" text-anchor="middle" fill="#1a1a1a">*</text>
<text x="1786.5" y="2452" font-size="40" text-anchor="middle" fill="#1a1a1a">*</text>
<text x="1814.1" y="2452" font-size="40" text-anchor="middle" fill="#1a1a1a">*</text>
<text transform="translate(1424.0 2560.4) rotate(-45)" font-size="45" font-weight="bold" text-anchor="end" fill="#1a1a1a">CTX-2</text>
<text transform="translate(1533.9 2567.0) rotate(-45)" font-size="45" font-weight="bold" text-anchor="end" fill="#1a1a1a">Ca<tspan font-size="33" dy="-25" dx="-1.5">2+</tspan><tspan dy="25" dx="10.5"> 10</tspan><tspan dx="-5.4"> mM</tspan></text>
<text transform="translate(1630.4 2567.7) rotate(-45)" font-size="45" font-weight="bold" text-anchor="end" fill="#1a1a1a">nif</text>
<text transform="translate(1726.5 2566.5) rotate(-45)" font-size="45" font-weight="bold" text-anchor="end" fill="#1a1a1a">KB + nif</text>
<text transform="translate(1817.4 2570.4) rotate(-45)" font-size="45" font-weight="bold" text-anchor="end" fill="#1a1a1a">APB</text>
<text transform="translate(1921.2 2566.5) rotate(-45)" font-size="45" font-weight="bold" text-anchor="end" fill="#1a1a1a">Ry</text>
<g font-size="100" fill="#1a1a1a">
<text transform="matrix(0.7250 0 0 0.7091 10.40 87.59)">a</text>
<text transform="matrix(0.7955 0 0 0.7534 1165.13 86.70)">b</text>
<text transform="matrix(0.8209 0 0 0.6982 22.42 670.00)">c</text>
<text transform="matrix(0.7933 0 0 0.7257 1162.83 680.27)">d</text>
<text transform="matrix(0.8149 0 0 0.7273 21.74 1220.97)">e</text>
<text transform="matrix(0.8630 0 0 0.7694 1234.14 1233.47)">f</text>
<text transform="matrix(0.8156 0 0 0.7527 46.74 1775.89)">g</text>
<text transform="matrix(0.7929 0 0 0.7639 1219.45 1749.06)">h</text>
<text transform="matrix(0.4272 0 0 0.3954 142.29 164.60)">contr</text>
<text transform="matrix(0.3717 0 0 0.3944 370.44 250.31)">CTX-2</text>
<text transform="matrix(0.3670 0 0 0.4101 346.57 305.00)">TMF</text>
<text transform="matrix(0.3684 0 0 0.4014 838.75 311.00)">PDT</text>
<text transform="translate(161.70 558.84) rotate(-90) scale(0.4279 0.4429)">2 mN</text>
<text transform="matrix(0.4171 0 0 0.4054 198.36 647.89)">10 min</text>
<text transform="matrix(0.4545 0 0 0.4110 1360.12 297.30)">nif</text>
<text transform="matrix(0.3703 0 0 0.3986 1764.15 287.90)">CTX-2</text>
<text transform="matrix(0.3750 0 0 0.4101 1735.25 388.30)">TMF</text>
<text transform="matrix(0.3384 0 0 0.4014 1998.99 482.70)">PDT</text>
<text transform="translate(1200.70 538.12) rotate(-90) scale(0.4248 0.4286)">2 mN</text>
<text transform="matrix(0.4231 0 0 0.4054 1221.62 613.59)">10 min</text>
<text transform="matrix(0.3913 0 0 0.3957 411.26 726.30)" word-spacing="-10">no TMF</text>
<text transform="matrix(0.3713 0 0 0.3986 628.84 737.90)">CTX-2</text>
<text transform="matrix(0.4031 0 0 0.4000 108.98 772.30)">Ca<tspan dx="-5"> 10</tspan><tspan dx="-17"> mM</tspan></text>
<text transform="matrix(0.3685 0 0 0.4101 746.56 834.30)">TMF</text>
<text transform="matrix(0.3700 0 0 0.4101 1002.74 946.00)">PDT</text>
<text transform="translate(122.86 1000.00) rotate(-90) scale(0.4256 0.4366)">3 mN</text>
<text transform="matrix(0.4196 0 0 0.3973 147.34 1082.30)">10 min</text>
<text transform="matrix(0.3922 0 0 0.4110 1255.86 745.00)">KB + nif</text>
<text transform="matrix(0.3728 0 0 0.4000 1656.84 712.30)">CTX-2</text>
<text transform="matrix(0.3600 0 0 0.4000 1920.42 844.30)">PDT</text>
<text transform="translate(1217.70 1000.44) rotate(-90) scale(0.4274 0.4429)">2 mN</text>
<text transform="matrix(0.4255 0 0 0.3959 1241.60 1063.90)">10 min</text>
<text transform="matrix(0.3509 0 0 0.3933 177.89 1229.44)">Ry</text>
<text transform="matrix(0.3703 0 0 0.4000 550.95 1223.60)">CTX-2</text>
<text transform="matrix(0.3621 0 0 0.4101 906.40 1297.70)">PDT</text>
<text transform="matrix(0.3935 0 0 0.4057 519.35 1447.19)" word-spacing="-10">no TMF</text>
<text transform="translate(118.30 1601.46) rotate(-90) scale(0.4319 0.4429)">2 mN</text>
<text transform="matrix(0.4196 0 0 0.3959 142.64 1668.90)">10 min</text>
<text transform="matrix(0.3538 0 0 0.4058 1305.00 1314.00)">APB</text>
<text transform="matrix(0.3706 0 0 0.3986 1687.45 1292.90)">CTX-2</text>
<text transform="matrix(0.3913 0 0 0.4057 1722.26 1436.29)" word-spacing="-10">no TMF</text>
<text transform="matrix(0.3600 0 0 0.4014 1956.42 1530.00)">PDT</text>
<text transform="translate(1237.70 1572.15) rotate(-90) scale(0.4305 0.4429)">2 mN</text>
<text transform="matrix(0.4255 0 0 0.3919 1249.90 1647.91)">10 min</text>
<text transform="matrix(0.4588 0 0 0.4662 177.52 1914.83)" font-weight="bold">200</text>
<text transform="matrix(0.4573 0 0 0.4662 177.76 2068.23)" font-weight="bold">150</text>
<text transform="matrix(0.4573 0 0 0.4676 177.76 2221.03)" font-weight="bold">100</text>
<text transform="matrix(0.4577 0 0 0.4676 203.33 2374.73)" font-weight="bold">50</text>
<text transform="matrix(0.4787 0 0 0.4620 227.89 2528.14)" font-weight="bold">0</text>
<text transform="translate(141.87 2492.44) rotate(-90) scale(0.4199 0.4488)">Transient max force, % to control</text>
<text transform="matrix(0.4638 0 0 0.4493 1240.21 1901.35)" font-weight="bold">200</text>
<text transform="matrix(0.4624 0 0 0.4493 1240.43 2054.35)" font-weight="bold">150</text>
<text transform="matrix(0.4624 0 0 0.4493 1240.43 2207.35)" font-weight="bold">100</text>
<text transform="matrix(0.4635 0 0 0.4493 1266.21 2360.35)" font-weight="bold">50</text>
<text transform="matrix(0.4936 0 0 0.4493 1290.63 2513.35)" font-weight="bold">0</text>
<text transform="translate(1201.73 2482.00) rotate(-90) scale(0.4253 0.4442)">Diastolic tension, to force control</text>
</g>
</svg>
</body></html>
